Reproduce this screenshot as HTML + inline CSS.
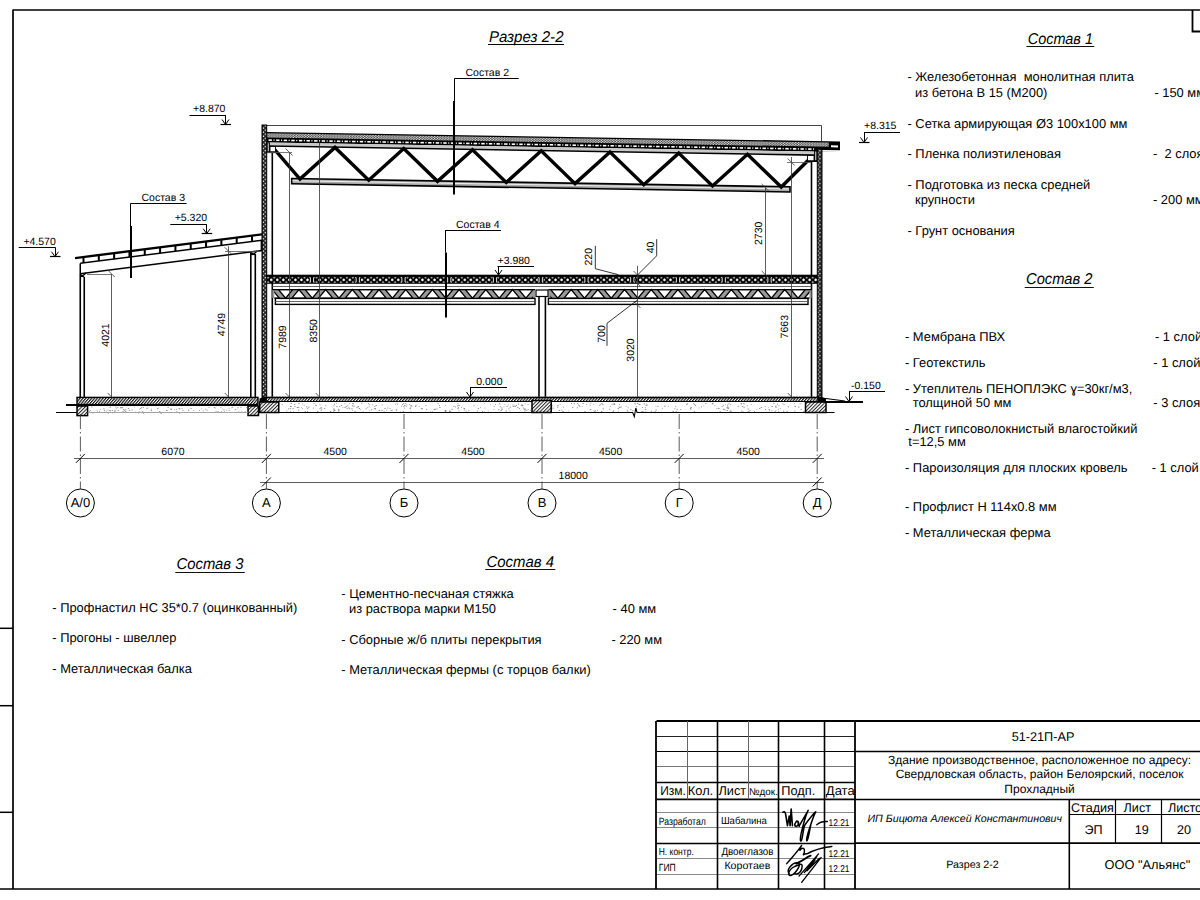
<!DOCTYPE html>
<html><head><meta charset="utf-8"><style>
html,body{margin:0;padding:0;background:#fff;overflow:hidden;}
svg{display:block;font-family:"Liberation Sans",sans-serif;text-rendering:geometricPrecision;}
</style></head><body>
<svg width="1200" height="900" viewBox="0 0 1200 900">
<defs>
<pattern id="ins" width="2.8" height="2.05" patternUnits="userSpaceOnUse" y="0.8"><rect width="2.8" height="2.05" fill="#3a3a3a"/><circle cx="0.7" cy="0.52" r="0.62" fill="#fff"/><circle cx="2.1" cy="1.55" r="0.62" fill="#fff"/></pattern>
<pattern id="dsh" width="7.6" height="2.4" patternUnits="userSpaceOnUse" y="6.3"><rect width="7.6" height="2.4" fill="#000"/><rect x="0.6" y="0.45" width="3.4" height="1.5" fill="#fff"/><rect x="5.3" y="0.5" width="1.1" height="1.4" fill="#eee"/></pattern>
<pattern id="wal" width="4.7" height="4.1" patternUnits="userSpaceOnUse" x="262"><rect width="4.7" height="4.1" fill="#222"/><circle cx="1.4" cy="1.0" r="0.7" fill="#fff"/><circle cx="3.3" cy="3.05" r="0.7" fill="#fff"/></pattern>
<pattern id="plk" width="6.05" height="6" patternUnits="userSpaceOnUse" x="2" y="276.9"><rect width="6.05" height="6" fill="#000"/><path d="M1.6 2.9 L3.0 1.3 L4.4 2.9 L3.0 4.5Z" fill="#fff"/><circle cx="3.0" cy="2.9" r="1.0" fill="#fff"/><path d="M4.7 0.3 L7.4 0.3 L6.05 2.0Z M4.7 5.7 L7.4 5.7 L6.05 4.0Z M-1.35 0.3 L1.35 0.3 L0 2.0Z M-1.35 5.7 L1.35 5.7 L0 4.0Z" fill="#ddd"/></pattern>
<pattern id="hat2" width="2.2" height="2.2" patternUnits="userSpaceOnUse" patternTransform="rotate(-50)"><rect width="2.2" height="2.2" fill="#fff"/><rect width="2.2" height="1.15" fill="#111"/></pattern>
<pattern id="hat" width="2.5" height="2.5" patternUnits="userSpaceOnUse" patternTransform="rotate(-45)"><rect width="2.5" height="2.5" fill="#fff"/><rect width="2.5" height="1.0" fill="#222"/></pattern>
</defs>
<line x1="13.00" y1="10.00" x2="1200.00" y2="10.00" stroke="#000" stroke-width="1.7" />
<line x1="13.00" y1="9.40" x2="13.00" y2="889.00" stroke="#000" stroke-width="1.7" />
<line x1="0.00" y1="889.00" x2="1200.00" y2="889.00" stroke="#000" stroke-width="1.7" />
<line x1="0.00" y1="628.30" x2="13.00" y2="628.30" stroke="#000" stroke-width="1.5" />
<line x1="0.00" y1="705.70" x2="13.00" y2="705.70" stroke="#000" stroke-width="1.5" />
<line x1="0.00" y1="812.30" x2="13.00" y2="812.30" stroke="#000" stroke-width="1.5" />
<path d="M1192.5 10 V31.5 H1200" stroke="#000" stroke-width="1.8" fill="none" />
<text x="489" y="41.5" font-size="15.6" text-anchor="start" font-style="italic" style="white-space:pre" textLength="74.5" lengthAdjust="spacingAndGlyphs">Разрез 2-2</text>
<line x1="488.00" y1="44.50" x2="564.00" y2="44.50" stroke="#000" stroke-width="1" />
<line x1="189.50" y1="115.50" x2="225.50" y2="115.50" stroke="#000" stroke-width="1" />
<line x1="225.50" y1="115.00" x2="225.50" y2="124.50" stroke="#000" stroke-width="1" />
<path d="M222.0 119.5 L225.5 124.5 L229.0 119.5" stroke="#000" stroke-width="1" fill="none" />
<line x1="220.50" y1="124.50" x2="231.00" y2="124.50" stroke="#000" stroke-width="1.2" />
<text x="193" y="112" font-size="10.5" text-anchor="start" font-style="normal" style="white-space:pre" >+8.870</text>
<line x1="18.70" y1="247.50" x2="55.00" y2="247.50" stroke="#000" stroke-width="1" />
<line x1="55.50" y1="247.20" x2="55.50" y2="256.70" stroke="#000" stroke-width="1" />
<path d="M51.5 251.7 L55 256.7 L58.5 251.7" stroke="#000" stroke-width="1" fill="none" />
<line x1="50.00" y1="256.50" x2="60.50" y2="256.50" stroke="#000" stroke-width="1.2" />
<text x="23.4" y="244.6" font-size="10.5" text-anchor="start" font-style="normal" style="white-space:pre" >+4.570</text>
<line x1="170.30" y1="224.50" x2="206.70" y2="224.50" stroke="#000" stroke-width="1" />
<line x1="206.50" y1="224.20" x2="206.50" y2="233.70" stroke="#000" stroke-width="1" />
<path d="M203.2 228.7 L206.7 233.7 L210.2 228.7" stroke="#000" stroke-width="1" fill="none" />
<line x1="201.70" y1="233.50" x2="212.20" y2="233.50" stroke="#000" stroke-width="1.2" />
<text x="174.7" y="221.2" font-size="10.5" text-anchor="start" font-style="normal" style="white-space:pre" >+5.320</text>
<line x1="864.00" y1="132.50" x2="900.00" y2="132.50" stroke="#000" stroke-width="1" />
<line x1="864.50" y1="132.00" x2="864.50" y2="142.50" stroke="#000" stroke-width="1" />
<path d="M860.5 137.5 L864 142.5 L867.5 137.5" stroke="#000" stroke-width="1" fill="none" />
<line x1="859.00" y1="142.50" x2="869.50" y2="142.50" stroke="#000" stroke-width="1.2" />
<text x="864" y="129" font-size="10.5" text-anchor="start" font-style="normal" style="white-space:pre" >+8.315</text>
<line x1="849.00" y1="391.50" x2="885.00" y2="391.50" stroke="#000" stroke-width="1" />
<line x1="849.50" y1="391.50" x2="849.50" y2="401.50" stroke="#000" stroke-width="1" />
<path d="M845.5 396.5 L849 401.5 L852.5 396.5" stroke="#000" stroke-width="1" fill="none" />
<text x="851" y="389" font-size="10.5" text-anchor="start" font-style="normal" style="white-space:pre" >-0.150</text>
<line x1="470.00" y1="387.50" x2="507.00" y2="387.50" stroke="#000" stroke-width="1" />
<line x1="470.50" y1="387.00" x2="470.50" y2="397.00" stroke="#000" stroke-width="1" />
<path d="M466.5 392 L470 397 L473.5 392" stroke="#000" stroke-width="1" fill="none" />
<text x="476.25" y="384.5" font-size="10.5" text-anchor="start" font-style="normal" style="white-space:pre" >0.000</text>
<line x1="497.50" y1="266.50" x2="534.00" y2="266.50" stroke="#000" stroke-width="1" />
<line x1="498.50" y1="266.40" x2="498.50" y2="275.00" stroke="#000" stroke-width="1" />
<path d="M495 270 L498.5 275 L502 270" stroke="#000" stroke-width="1" fill="none" />
<text x="497.5" y="263.75" font-size="10.5" text-anchor="start" font-style="normal" style="white-space:pre" >+3.980</text>
<path d="M266.7 125.5 H821.5 V141" stroke="#444" stroke-width="1" fill="none" />
<g transform="translate(0,128.068) skewY(0.9510)">
<rect x="266.70" y="-0.60" width="573.30" height="10.60" fill="#000" stroke="none" stroke-width="1" />
<rect x="266.70" y="0.80" width="562.00" height="4.10" fill="url(#ins)" stroke="none" stroke-width="1" />
<rect x="831.00" y="3.50" width="7.00" height="2.00" fill="#fff" stroke="none" stroke-width="1" />
<rect x="822.00" y="8.30" width="18.00" height="1.80" fill="#fff" stroke="none" stroke-width="1" />
<rect x="269.50" y="10.00" width="544.50" height="2.90" fill="#c8c8c8" stroke="none" stroke-width="1" />
<rect x="269.50" y="12.70" width="544.50" height="1.60" fill="#000" stroke="none" stroke-width="1" />
<rect x="291.70" y="45.60" width="498.30" height="5.20" fill="#aaa" stroke="#000" stroke-width="1.6" />
<line x1="292.50" y1="47.80" x2="789.00" y2="47.80" stroke="#fff" stroke-width="0.8" />
<path d="M273.00 15.00 L300.00 46.00 L335.00 13.80 L368.75 46.00 L403.75 13.80 L437.50 46.00 L472.50 13.80 L506.25 46.00 L541.25 13.80 L575.00 46.00 L610.00 13.80 L643.75 46.00 L678.75 13.80 L712.50 46.00 L747.50 13.80 L781.25 46.00 L811.00 16.00" stroke="#000" stroke-width="3.4" fill="none" stroke-linejoin="miter" stroke-miterlimit="3"/>
</g>
<rect x="268.50" y="139.33" width="3.40" height="1.60" fill="#fff" stroke="none" stroke-width="1" />
<rect x="273.40" y="139.43" width="1.10" height="1.40" fill="#fff" stroke="none" stroke-width="1" />
<rect x="276.10" y="139.45" width="3.40" height="1.60" fill="#fff" stroke="none" stroke-width="1" />
<rect x="281.00" y="139.55" width="1.10" height="1.40" fill="#fff" stroke="none" stroke-width="1" />
<rect x="283.70" y="139.58" width="3.40" height="1.60" fill="#fff" stroke="none" stroke-width="1" />
<rect x="288.60" y="139.68" width="1.10" height="1.40" fill="#fff" stroke="none" stroke-width="1" />
<rect x="291.30" y="139.70" width="3.40" height="1.60" fill="#fff" stroke="none" stroke-width="1" />
<rect x="296.20" y="139.80" width="1.10" height="1.40" fill="#fff" stroke="none" stroke-width="1" />
<rect x="298.90" y="139.83" width="3.40" height="1.60" fill="#fff" stroke="none" stroke-width="1" />
<rect x="303.80" y="139.93" width="1.10" height="1.40" fill="#fff" stroke="none" stroke-width="1" />
<rect x="306.50" y="139.96" width="3.40" height="1.60" fill="#fff" stroke="none" stroke-width="1" />
<rect x="311.40" y="140.06" width="1.10" height="1.40" fill="#fff" stroke="none" stroke-width="1" />
<rect x="314.10" y="140.08" width="3.40" height="1.60" fill="#fff" stroke="none" stroke-width="1" />
<rect x="319.00" y="140.18" width="1.10" height="1.40" fill="#fff" stroke="none" stroke-width="1" />
<rect x="321.70" y="140.21" width="3.40" height="1.60" fill="#fff" stroke="none" stroke-width="1" />
<rect x="326.60" y="140.31" width="1.10" height="1.40" fill="#fff" stroke="none" stroke-width="1" />
<rect x="329.30" y="140.33" width="3.40" height="1.60" fill="#fff" stroke="none" stroke-width="1" />
<rect x="334.20" y="140.43" width="1.10" height="1.40" fill="#fff" stroke="none" stroke-width="1" />
<rect x="336.90" y="140.46" width="3.40" height="1.60" fill="#fff" stroke="none" stroke-width="1" />
<rect x="341.80" y="140.56" width="1.10" height="1.40" fill="#fff" stroke="none" stroke-width="1" />
<rect x="344.50" y="140.59" width="3.40" height="1.60" fill="#fff" stroke="none" stroke-width="1" />
<rect x="349.40" y="140.69" width="1.10" height="1.40" fill="#fff" stroke="none" stroke-width="1" />
<rect x="352.10" y="140.71" width="3.40" height="1.60" fill="#fff" stroke="none" stroke-width="1" />
<rect x="357.00" y="140.81" width="1.10" height="1.40" fill="#fff" stroke="none" stroke-width="1" />
<rect x="359.70" y="140.84" width="3.40" height="1.60" fill="#fff" stroke="none" stroke-width="1" />
<rect x="364.60" y="140.94" width="1.10" height="1.40" fill="#fff" stroke="none" stroke-width="1" />
<rect x="367.30" y="140.97" width="3.40" height="1.60" fill="#fff" stroke="none" stroke-width="1" />
<rect x="372.20" y="141.07" width="1.10" height="1.40" fill="#fff" stroke="none" stroke-width="1" />
<rect x="374.90" y="141.09" width="3.40" height="1.60" fill="#fff" stroke="none" stroke-width="1" />
<rect x="379.80" y="141.19" width="1.10" height="1.40" fill="#fff" stroke="none" stroke-width="1" />
<rect x="382.50" y="141.22" width="3.40" height="1.60" fill="#fff" stroke="none" stroke-width="1" />
<rect x="387.40" y="141.32" width="1.10" height="1.40" fill="#fff" stroke="none" stroke-width="1" />
<rect x="390.10" y="141.34" width="3.40" height="1.60" fill="#fff" stroke="none" stroke-width="1" />
<rect x="395.00" y="141.44" width="1.10" height="1.40" fill="#fff" stroke="none" stroke-width="1" />
<rect x="397.70" y="141.47" width="3.40" height="1.60" fill="#fff" stroke="none" stroke-width="1" />
<rect x="402.60" y="141.57" width="1.10" height="1.40" fill="#fff" stroke="none" stroke-width="1" />
<rect x="405.30" y="141.60" width="3.40" height="1.60" fill="#fff" stroke="none" stroke-width="1" />
<rect x="410.20" y="141.70" width="1.10" height="1.40" fill="#fff" stroke="none" stroke-width="1" />
<rect x="412.90" y="141.72" width="3.40" height="1.60" fill="#fff" stroke="none" stroke-width="1" />
<rect x="417.80" y="141.82" width="1.10" height="1.40" fill="#fff" stroke="none" stroke-width="1" />
<rect x="420.50" y="141.85" width="3.40" height="1.60" fill="#fff" stroke="none" stroke-width="1" />
<rect x="425.40" y="141.95" width="1.10" height="1.40" fill="#fff" stroke="none" stroke-width="1" />
<rect x="428.10" y="141.97" width="3.40" height="1.60" fill="#fff" stroke="none" stroke-width="1" />
<rect x="433.00" y="142.07" width="1.10" height="1.40" fill="#fff" stroke="none" stroke-width="1" />
<rect x="435.70" y="142.10" width="3.40" height="1.60" fill="#fff" stroke="none" stroke-width="1" />
<rect x="440.60" y="142.20" width="1.10" height="1.40" fill="#fff" stroke="none" stroke-width="1" />
<rect x="443.30" y="142.23" width="3.40" height="1.60" fill="#fff" stroke="none" stroke-width="1" />
<rect x="448.20" y="142.33" width="1.10" height="1.40" fill="#fff" stroke="none" stroke-width="1" />
<rect x="450.90" y="142.35" width="3.40" height="1.60" fill="#fff" stroke="none" stroke-width="1" />
<rect x="455.80" y="142.45" width="1.10" height="1.40" fill="#fff" stroke="none" stroke-width="1" />
<rect x="458.50" y="142.48" width="3.40" height="1.60" fill="#fff" stroke="none" stroke-width="1" />
<rect x="463.40" y="142.58" width="1.10" height="1.40" fill="#fff" stroke="none" stroke-width="1" />
<rect x="466.10" y="142.61" width="3.40" height="1.60" fill="#fff" stroke="none" stroke-width="1" />
<rect x="471.00" y="142.71" width="1.10" height="1.40" fill="#fff" stroke="none" stroke-width="1" />
<rect x="473.70" y="142.73" width="3.40" height="1.60" fill="#fff" stroke="none" stroke-width="1" />
<rect x="478.60" y="142.83" width="1.10" height="1.40" fill="#fff" stroke="none" stroke-width="1" />
<rect x="481.30" y="142.86" width="3.40" height="1.60" fill="#fff" stroke="none" stroke-width="1" />
<rect x="486.20" y="142.96" width="1.10" height="1.40" fill="#fff" stroke="none" stroke-width="1" />
<rect x="488.90" y="142.98" width="3.40" height="1.60" fill="#fff" stroke="none" stroke-width="1" />
<rect x="493.80" y="143.08" width="1.10" height="1.40" fill="#fff" stroke="none" stroke-width="1" />
<rect x="496.50" y="143.11" width="3.40" height="1.60" fill="#fff" stroke="none" stroke-width="1" />
<rect x="501.40" y="143.21" width="1.10" height="1.40" fill="#fff" stroke="none" stroke-width="1" />
<rect x="504.10" y="143.24" width="3.40" height="1.60" fill="#fff" stroke="none" stroke-width="1" />
<rect x="509.00" y="143.34" width="1.10" height="1.40" fill="#fff" stroke="none" stroke-width="1" />
<rect x="511.70" y="143.36" width="3.40" height="1.60" fill="#fff" stroke="none" stroke-width="1" />
<rect x="516.60" y="143.46" width="1.10" height="1.40" fill="#fff" stroke="none" stroke-width="1" />
<rect x="519.30" y="143.49" width="3.40" height="1.60" fill="#fff" stroke="none" stroke-width="1" />
<rect x="524.20" y="143.59" width="1.10" height="1.40" fill="#fff" stroke="none" stroke-width="1" />
<rect x="526.90" y="143.61" width="3.40" height="1.60" fill="#fff" stroke="none" stroke-width="1" />
<rect x="531.80" y="143.71" width="1.10" height="1.40" fill="#fff" stroke="none" stroke-width="1" />
<rect x="534.50" y="143.74" width="3.40" height="1.60" fill="#fff" stroke="none" stroke-width="1" />
<rect x="539.40" y="143.84" width="1.10" height="1.40" fill="#fff" stroke="none" stroke-width="1" />
<rect x="542.10" y="143.87" width="3.40" height="1.60" fill="#fff" stroke="none" stroke-width="1" />
<rect x="547.00" y="143.97" width="1.10" height="1.40" fill="#fff" stroke="none" stroke-width="1" />
<rect x="549.70" y="143.99" width="3.40" height="1.60" fill="#fff" stroke="none" stroke-width="1" />
<rect x="554.60" y="144.09" width="1.10" height="1.40" fill="#fff" stroke="none" stroke-width="1" />
<rect x="557.30" y="144.12" width="3.40" height="1.60" fill="#fff" stroke="none" stroke-width="1" />
<rect x="562.20" y="144.22" width="1.10" height="1.40" fill="#fff" stroke="none" stroke-width="1" />
<rect x="564.90" y="144.25" width="3.40" height="1.60" fill="#fff" stroke="none" stroke-width="1" />
<rect x="569.80" y="144.35" width="1.10" height="1.40" fill="#fff" stroke="none" stroke-width="1" />
<rect x="572.50" y="144.37" width="3.40" height="1.60" fill="#fff" stroke="none" stroke-width="1" />
<rect x="577.40" y="144.47" width="1.10" height="1.40" fill="#fff" stroke="none" stroke-width="1" />
<rect x="580.10" y="144.50" width="3.40" height="1.60" fill="#fff" stroke="none" stroke-width="1" />
<rect x="585.00" y="144.60" width="1.10" height="1.40" fill="#fff" stroke="none" stroke-width="1" />
<rect x="587.70" y="144.62" width="3.40" height="1.60" fill="#fff" stroke="none" stroke-width="1" />
<rect x="592.60" y="144.72" width="1.10" height="1.40" fill="#fff" stroke="none" stroke-width="1" />
<rect x="595.30" y="144.75" width="3.40" height="1.60" fill="#fff" stroke="none" stroke-width="1" />
<rect x="600.20" y="144.85" width="1.10" height="1.40" fill="#fff" stroke="none" stroke-width="1" />
<rect x="602.90" y="144.88" width="3.40" height="1.60" fill="#fff" stroke="none" stroke-width="1" />
<rect x="607.80" y="144.98" width="1.10" height="1.40" fill="#fff" stroke="none" stroke-width="1" />
<rect x="610.50" y="145.00" width="3.40" height="1.60" fill="#fff" stroke="none" stroke-width="1" />
<rect x="615.40" y="145.10" width="1.10" height="1.40" fill="#fff" stroke="none" stroke-width="1" />
<rect x="618.10" y="145.13" width="3.40" height="1.60" fill="#fff" stroke="none" stroke-width="1" />
<rect x="623.00" y="145.23" width="1.10" height="1.40" fill="#fff" stroke="none" stroke-width="1" />
<rect x="625.70" y="145.25" width="3.40" height="1.60" fill="#fff" stroke="none" stroke-width="1" />
<rect x="630.60" y="145.35" width="1.10" height="1.40" fill="#fff" stroke="none" stroke-width="1" />
<rect x="633.30" y="145.38" width="3.40" height="1.60" fill="#fff" stroke="none" stroke-width="1" />
<rect x="638.20" y="145.48" width="1.10" height="1.40" fill="#fff" stroke="none" stroke-width="1" />
<rect x="640.90" y="145.51" width="3.40" height="1.60" fill="#fff" stroke="none" stroke-width="1" />
<rect x="645.80" y="145.61" width="1.10" height="1.40" fill="#fff" stroke="none" stroke-width="1" />
<rect x="648.50" y="145.63" width="3.40" height="1.60" fill="#fff" stroke="none" stroke-width="1" />
<rect x="653.40" y="145.73" width="1.10" height="1.40" fill="#fff" stroke="none" stroke-width="1" />
<rect x="656.10" y="145.76" width="3.40" height="1.60" fill="#fff" stroke="none" stroke-width="1" />
<rect x="661.00" y="145.86" width="1.10" height="1.40" fill="#fff" stroke="none" stroke-width="1" />
<rect x="663.70" y="145.89" width="3.40" height="1.60" fill="#fff" stroke="none" stroke-width="1" />
<rect x="668.60" y="145.99" width="1.10" height="1.40" fill="#fff" stroke="none" stroke-width="1" />
<rect x="671.30" y="146.01" width="3.40" height="1.60" fill="#fff" stroke="none" stroke-width="1" />
<rect x="676.20" y="146.11" width="1.10" height="1.40" fill="#fff" stroke="none" stroke-width="1" />
<rect x="678.90" y="146.14" width="3.40" height="1.60" fill="#fff" stroke="none" stroke-width="1" />
<rect x="683.80" y="146.24" width="1.10" height="1.40" fill="#fff" stroke="none" stroke-width="1" />
<rect x="686.50" y="146.26" width="3.40" height="1.60" fill="#fff" stroke="none" stroke-width="1" />
<rect x="691.40" y="146.36" width="1.10" height="1.40" fill="#fff" stroke="none" stroke-width="1" />
<rect x="694.10" y="146.39" width="3.40" height="1.60" fill="#fff" stroke="none" stroke-width="1" />
<rect x="699.00" y="146.49" width="1.10" height="1.40" fill="#fff" stroke="none" stroke-width="1" />
<rect x="701.70" y="146.52" width="3.40" height="1.60" fill="#fff" stroke="none" stroke-width="1" />
<rect x="706.60" y="146.62" width="1.10" height="1.40" fill="#fff" stroke="none" stroke-width="1" />
<rect x="709.30" y="146.64" width="3.40" height="1.60" fill="#fff" stroke="none" stroke-width="1" />
<rect x="714.20" y="146.74" width="1.10" height="1.40" fill="#fff" stroke="none" stroke-width="1" />
<rect x="716.90" y="146.77" width="3.40" height="1.60" fill="#fff" stroke="none" stroke-width="1" />
<rect x="721.80" y="146.87" width="1.10" height="1.40" fill="#fff" stroke="none" stroke-width="1" />
<rect x="724.50" y="146.89" width="3.40" height="1.60" fill="#fff" stroke="none" stroke-width="1" />
<rect x="729.40" y="146.99" width="1.10" height="1.40" fill="#fff" stroke="none" stroke-width="1" />
<rect x="732.10" y="147.02" width="3.40" height="1.60" fill="#fff" stroke="none" stroke-width="1" />
<rect x="737.00" y="147.12" width="1.10" height="1.40" fill="#fff" stroke="none" stroke-width="1" />
<rect x="739.70" y="147.15" width="3.40" height="1.60" fill="#fff" stroke="none" stroke-width="1" />
<rect x="744.60" y="147.25" width="1.10" height="1.40" fill="#fff" stroke="none" stroke-width="1" />
<rect x="747.30" y="147.27" width="3.40" height="1.60" fill="#fff" stroke="none" stroke-width="1" />
<rect x="752.20" y="147.37" width="1.10" height="1.40" fill="#fff" stroke="none" stroke-width="1" />
<rect x="754.90" y="147.40" width="3.40" height="1.60" fill="#fff" stroke="none" stroke-width="1" />
<rect x="759.80" y="147.50" width="1.10" height="1.40" fill="#fff" stroke="none" stroke-width="1" />
<rect x="762.50" y="147.53" width="3.40" height="1.60" fill="#fff" stroke="none" stroke-width="1" />
<rect x="767.40" y="147.63" width="1.10" height="1.40" fill="#fff" stroke="none" stroke-width="1" />
<rect x="770.10" y="147.65" width="3.40" height="1.60" fill="#fff" stroke="none" stroke-width="1" />
<rect x="775.00" y="147.75" width="1.10" height="1.40" fill="#fff" stroke="none" stroke-width="1" />
<rect x="777.70" y="147.78" width="3.40" height="1.60" fill="#fff" stroke="none" stroke-width="1" />
<rect x="782.60" y="147.88" width="1.10" height="1.40" fill="#fff" stroke="none" stroke-width="1" />
<rect x="785.30" y="147.90" width="3.40" height="1.60" fill="#fff" stroke="none" stroke-width="1" />
<rect x="790.20" y="148.00" width="1.10" height="1.40" fill="#fff" stroke="none" stroke-width="1" />
<rect x="792.90" y="148.03" width="3.40" height="1.60" fill="#fff" stroke="none" stroke-width="1" />
<rect x="797.80" y="148.13" width="1.10" height="1.40" fill="#fff" stroke="none" stroke-width="1" />
<rect x="800.50" y="148.16" width="3.40" height="1.60" fill="#fff" stroke="none" stroke-width="1" />
<rect x="805.40" y="148.26" width="1.10" height="1.40" fill="#fff" stroke="none" stroke-width="1" />
<rect x="808.10" y="148.28" width="3.40" height="1.60" fill="#fff" stroke="none" stroke-width="1" />
<rect x="813.00" y="148.38" width="1.10" height="1.40" fill="#fff" stroke="none" stroke-width="1" />
<rect x="262.00" y="125.00" width="4.70" height="277.00" fill="url(#wal)" stroke="#000" stroke-width="1" />
<rect x="817.30" y="149.00" width="4.70" height="252.00" fill="url(#wal)" stroke="#000" stroke-width="1" />
<line x1="272.30" y1="152.00" x2="272.30" y2="397.00" stroke="#000" stroke-width="1.6" />
<line x1="811.50" y1="160.00" x2="811.50" y2="397.00" stroke="#000" stroke-width="1.6" />
<rect x="267.20" y="142.80" width="2.30" height="9.20" fill="#aaa" stroke="#000" stroke-width="0.9" />
<rect x="270.00" y="146.50" width="5.50" height="5.50" fill="#fff" stroke="#000" stroke-width="0.9" />
<line x1="266.70" y1="152.30" x2="276.00" y2="152.30" stroke="#000" stroke-width="1.6" />
<rect x="814.50" y="151.00" width="2.30" height="9.80" fill="#aaa" stroke="#000" stroke-width="0.9" />
<rect x="807.50" y="155.50" width="6.50" height="5.50" fill="#fff" stroke="#000" stroke-width="0.9" />
<line x1="807.00" y1="161.20" x2="817.00" y2="161.20" stroke="#000" stroke-width="1.6" />
<rect x="266.70" y="274.70" width="550.60" height="9.10" fill="#000" stroke="none" stroke-width="1" />
<rect x="266.70" y="276.90" width="550.60" height="6.00" fill="url(#plk)" stroke="none" stroke-width="1" />
<rect x="309.00" y="276.90" width="6.00" height="6.00" fill="#000" stroke="none" stroke-width="1" />
<path d="M309.4 277.6 H310.4 V282.2 H309.4" stroke="#fff" stroke-width="0.9" fill="none" />
<path d="M314.6 277.6 H313.6 V282.2 H314.6" stroke="#fff" stroke-width="0.9" fill="none" />
<rect x="354.75" y="276.90" width="6.00" height="6.00" fill="#000" stroke="none" stroke-width="1" />
<path d="M355.15 277.6 H356.15 V282.2 H355.15" stroke="#fff" stroke-width="0.9" fill="none" />
<path d="M360.35 277.6 H359.35 V282.2 H360.35" stroke="#fff" stroke-width="0.9" fill="none" />
<rect x="400.50" y="276.90" width="6.00" height="6.00" fill="#000" stroke="none" stroke-width="1" />
<path d="M400.9 277.6 H401.9 V282.2 H400.9" stroke="#fff" stroke-width="0.9" fill="none" />
<path d="M406.1 277.6 H405.1 V282.2 H406.1" stroke="#fff" stroke-width="0.9" fill="none" />
<rect x="446.25" y="276.90" width="6.00" height="6.00" fill="#000" stroke="none" stroke-width="1" />
<path d="M446.65 277.6 H447.65 V282.2 H446.65" stroke="#fff" stroke-width="0.9" fill="none" />
<path d="M451.85 277.6 H450.85 V282.2 H451.85" stroke="#fff" stroke-width="0.9" fill="none" />
<rect x="492.00" y="276.90" width="6.00" height="6.00" fill="#000" stroke="none" stroke-width="1" />
<path d="M492.4 277.6 H493.4 V282.2 H492.4" stroke="#fff" stroke-width="0.9" fill="none" />
<path d="M497.6 277.6 H496.6 V282.2 H497.6" stroke="#fff" stroke-width="0.9" fill="none" />
<rect x="537.75" y="276.90" width="6.00" height="6.00" fill="#000" stroke="none" stroke-width="1" />
<path d="M538.15 277.6 H539.15 V282.2 H538.15" stroke="#fff" stroke-width="0.9" fill="none" />
<path d="M543.35 277.6 H542.35 V282.2 H543.35" stroke="#fff" stroke-width="0.9" fill="none" />
<rect x="583.50" y="276.90" width="6.00" height="6.00" fill="#000" stroke="none" stroke-width="1" />
<path d="M583.9 277.6 H584.9 V282.2 H583.9" stroke="#fff" stroke-width="0.9" fill="none" />
<path d="M589.1 277.6 H588.1 V282.2 H589.1" stroke="#fff" stroke-width="0.9" fill="none" />
<rect x="629.25" y="276.90" width="6.00" height="6.00" fill="#000" stroke="none" stroke-width="1" />
<path d="M629.65 277.6 H630.65 V282.2 H629.65" stroke="#fff" stroke-width="0.9" fill="none" />
<path d="M634.85 277.6 H633.85 V282.2 H634.85" stroke="#fff" stroke-width="0.9" fill="none" />
<rect x="675.00" y="276.90" width="6.00" height="6.00" fill="#000" stroke="none" stroke-width="1" />
<path d="M675.4 277.6 H676.4 V282.2 H675.4" stroke="#fff" stroke-width="0.9" fill="none" />
<path d="M680.6 277.6 H679.6 V282.2 H680.6" stroke="#fff" stroke-width="0.9" fill="none" />
<rect x="720.75" y="276.90" width="6.00" height="6.00" fill="#000" stroke="none" stroke-width="1" />
<path d="M721.15 277.6 H722.15 V282.2 H721.15" stroke="#fff" stroke-width="0.9" fill="none" />
<path d="M726.35 277.6 H725.35 V282.2 H726.35" stroke="#fff" stroke-width="0.9" fill="none" />
<rect x="766.50" y="276.90" width="6.00" height="6.00" fill="#000" stroke="none" stroke-width="1" />
<path d="M766.9 277.6 H767.9 V282.2 H766.9" stroke="#fff" stroke-width="0.9" fill="none" />
<path d="M772.1 277.6 H771.1 V282.2 H772.1" stroke="#fff" stroke-width="0.9" fill="none" />
<line x1="272.30" y1="286.50" x2="811.50" y2="286.50" stroke="#555" stroke-width="0.9" />
<rect x="272.30" y="289.60" width="262.70" height="8.60" fill="#999" stroke="none" stroke-width="1" />
<clipPath id="cp272"><rect x="274.3" y="285" width="258.7" height="20"/></clipPath>
<path d="M265.15 298.2 L279.35 298.2 L272.25 289.6Z M278.50 289.6 L292.70 289.6 L285.60 298.2Z M291.85 298.2 L306.05 298.2 L298.95 289.6Z M305.20 289.6 L319.40 289.6 L312.30 298.2Z M318.55 298.2 L332.75 298.2 L325.65 289.6Z M331.90 289.6 L346.10 289.6 L339.00 298.2Z M345.25 298.2 L359.45 298.2 L352.35 289.6Z M358.60 289.6 L372.80 289.6 L365.70 298.2Z M371.95 298.2 L386.15 298.2 L379.05 289.6Z M385.30 289.6 L399.50 289.6 L392.40 298.2Z M398.65 298.2 L412.85 298.2 L405.75 289.6Z M412.00 289.6 L426.20 289.6 L419.10 298.2Z M425.35 298.2 L439.55 298.2 L432.45 289.6Z M438.70 289.6 L452.90 289.6 L445.80 298.2Z M452.05 298.2 L466.25 298.2 L459.15 289.6Z M465.40 289.6 L479.60 289.6 L472.50 298.2Z M478.75 298.2 L492.95 298.2 L485.85 289.6Z M492.10 289.6 L506.30 289.6 L499.20 298.2Z M505.45 298.2 L519.65 298.2 L512.55 289.6Z M518.80 289.6 L533.00 289.6 L525.90 298.2Z M532.15 298.2 L546.35 298.2 L539.25 289.6Z " stroke="#000" stroke-width="1.3" fill="#fff" clip-path="url(#cp272)"/>
<line x1="272.30" y1="289.60" x2="535.00" y2="289.60" stroke="#000" stroke-width="1.4" />
<rect x="275.40" y="298.40" width="259.60" height="6.00" fill="#fff" stroke="#000" stroke-width="1.4" />
<line x1="275.40" y1="301.50" x2="535.00" y2="301.50" stroke="#555" stroke-width="0.9" />
<rect x="548.40" y="289.60" width="263.10" height="8.60" fill="#999" stroke="none" stroke-width="1" />
<clipPath id="cp548"><rect x="550.4" y="285" width="259.1" height="20"/></clipPath>
<path d="M537.35 298.2 L551.55 298.2 L544.45 289.6Z M550.70 289.6 L564.90 289.6 L557.80 298.2Z M564.05 298.2 L578.25 298.2 L571.15 289.6Z M577.40 289.6 L591.60 289.6 L584.50 298.2Z M590.75 298.2 L604.95 298.2 L597.85 289.6Z M604.10 289.6 L618.30 289.6 L611.20 298.2Z M617.45 298.2 L631.65 298.2 L624.55 289.6Z M630.80 289.6 L645.00 289.6 L637.90 298.2Z M644.15 298.2 L658.35 298.2 L651.25 289.6Z M657.50 289.6 L671.70 289.6 L664.60 298.2Z M670.85 298.2 L685.05 298.2 L677.95 289.6Z M684.20 289.6 L698.40 289.6 L691.30 298.2Z M697.55 298.2 L711.75 298.2 L704.65 289.6Z M710.90 289.6 L725.10 289.6 L718.00 298.2Z M724.25 298.2 L738.45 298.2 L731.35 289.6Z M737.60 289.6 L751.80 289.6 L744.70 298.2Z M750.95 298.2 L765.15 298.2 L758.05 289.6Z M764.30 289.6 L778.50 289.6 L771.40 298.2Z M777.65 298.2 L791.85 298.2 L784.75 289.6Z M791.00 289.6 L805.20 289.6 L798.10 298.2Z M804.35 298.2 L818.55 298.2 L811.45 289.6Z " stroke="#000" stroke-width="1.3" fill="#fff" clip-path="url(#cp548)"/>
<line x1="548.40" y1="289.60" x2="811.50" y2="289.60" stroke="#000" stroke-width="1.4" />
<rect x="548.40" y="298.40" width="259.60" height="6.00" fill="#fff" stroke="#000" stroke-width="1.4" />
<line x1="548.40" y1="301.50" x2="808.00" y2="301.50" stroke="#555" stroke-width="0.9" />
<line x1="539.00" y1="296.30" x2="539.00" y2="397.00" stroke="#000" stroke-width="1.6" />
<line x1="545.40" y1="296.30" x2="545.40" y2="397.00" stroke="#000" stroke-width="1.6" />
<rect x="536.00" y="290.00" width="12.00" height="6.50" fill="#fff" stroke="#000" stroke-width="1.2" />
<rect x="266.70" y="396.70" width="550.80" height="5.60" fill="url(#hat2)" stroke="none" stroke-width="1" />
<line x1="266.70" y1="397.50" x2="817.50" y2="397.50" stroke="#000" stroke-width="1.6" />
<line x1="266.70" y1="401.70" x2="817.50" y2="401.70" stroke="#000" stroke-width="1.5" />
<rect x="278.75" y="402.00" width="527.00" height="10.50" fill="#fff" stroke="none" stroke-width="1" />
<rect x="404.17" y="407.70" width="1.00" height="0.70" fill="#666" stroke="none" stroke-width="1" />
<rect x="760.79" y="407.07" width="1.30" height="0.70" fill="#666" stroke="none" stroke-width="1" />
<rect x="313.47" y="402.92" width="1.00" height="0.70" fill="#666" stroke="none" stroke-width="1" />
<rect x="415.42" y="404.91" width="1.30" height="0.70" fill="#666" stroke="none" stroke-width="1" />
<rect x="526.36" y="410.33" width="1.00" height="0.70" fill="#666" stroke="none" stroke-width="1" />
<rect x="487.89" y="410.55" width="0.70" height="0.70" fill="#666" stroke="none" stroke-width="1" />
<rect x="612.94" y="410.61" width="1.30" height="0.70" fill="#666" stroke="none" stroke-width="1" />
<rect x="484.11" y="402.94" width="0.70" height="0.70" fill="#666" stroke="none" stroke-width="1" />
<rect x="362.84" y="411.42" width="0.70" height="0.70" fill="#666" stroke="none" stroke-width="1" />
<rect x="437.47" y="403.08" width="1.00" height="0.70" fill="#666" stroke="none" stroke-width="1" />
<rect x="527.67" y="409.27" width="1.00" height="0.70" fill="#666" stroke="none" stroke-width="1" />
<rect x="654.63" y="411.09" width="1.00" height="0.70" fill="#666" stroke="none" stroke-width="1" />
<rect x="661.99" y="407.99" width="0.70" height="0.70" fill="#666" stroke="none" stroke-width="1" />
<rect x="741.28" y="403.68" width="0.70" height="0.70" fill="#666" stroke="none" stroke-width="1" />
<rect x="539.31" y="405.12" width="1.30" height="0.70" fill="#666" stroke="none" stroke-width="1" />
<rect x="508.42" y="408.44" width="1.00" height="0.70" fill="#666" stroke="none" stroke-width="1" />
<rect x="500.52" y="410.30" width="1.30" height="0.70" fill="#666" stroke="none" stroke-width="1" />
<rect x="463.58" y="408.07" width="1.30" height="0.70" fill="#666" stroke="none" stroke-width="1" />
<rect x="401.24" y="405.83" width="0.70" height="0.70" fill="#666" stroke="none" stroke-width="1" />
<rect x="729.47" y="411.72" width="1.30" height="0.70" fill="#666" stroke="none" stroke-width="1" />
<rect x="644.87" y="409.09" width="1.00" height="0.70" fill="#666" stroke="none" stroke-width="1" />
<rect x="786.40" y="410.94" width="1.30" height="0.70" fill="#666" stroke="none" stroke-width="1" />
<rect x="333.74" y="408.70" width="1.30" height="0.70" fill="#666" stroke="none" stroke-width="1" />
<rect x="716.43" y="407.96" width="1.00" height="0.70" fill="#666" stroke="none" stroke-width="1" />
<rect x="344.45" y="407.14" width="1.30" height="0.70" fill="#666" stroke="none" stroke-width="1" />
<rect x="799.64" y="403.60" width="0.70" height="0.70" fill="#666" stroke="none" stroke-width="1" />
<rect x="494.90" y="404.16" width="1.00" height="0.70" fill="#666" stroke="none" stroke-width="1" />
<rect x="503.68" y="406.54" width="0.70" height="0.70" fill="#666" stroke="none" stroke-width="1" />
<rect x="302.24" y="408.33" width="0.70" height="0.70" fill="#666" stroke="none" stroke-width="1" />
<rect x="477.73" y="408.08" width="1.30" height="0.70" fill="#666" stroke="none" stroke-width="1" />
<rect x="742.36" y="411.63" width="1.30" height="0.70" fill="#666" stroke="none" stroke-width="1" />
<rect x="403.11" y="403.12" width="0.70" height="0.70" fill="#666" stroke="none" stroke-width="1" />
<rect x="319.49" y="408.20" width="0.70" height="0.70" fill="#666" stroke="none" stroke-width="1" />
<rect x="778.12" y="411.54" width="1.00" height="0.70" fill="#666" stroke="none" stroke-width="1" />
<rect x="600.11" y="404.21" width="0.70" height="0.70" fill="#666" stroke="none" stroke-width="1" />
<rect x="794.42" y="405.86" width="1.00" height="0.70" fill="#666" stroke="none" stroke-width="1" />
<rect x="783.25" y="410.87" width="1.00" height="0.70" fill="#666" stroke="none" stroke-width="1" />
<rect x="477.17" y="410.63" width="1.00" height="0.70" fill="#666" stroke="none" stroke-width="1" />
<rect x="617.69" y="408.16" width="1.30" height="0.70" fill="#666" stroke="none" stroke-width="1" />
<rect x="332.95" y="411.56" width="1.30" height="0.70" fill="#666" stroke="none" stroke-width="1" />
<rect x="421.70" y="408.51" width="1.30" height="0.70" fill="#666" stroke="none" stroke-width="1" />
<rect x="404.00" y="405.51" width="1.00" height="0.70" fill="#666" stroke="none" stroke-width="1" />
<rect x="553.11" y="407.74" width="0.70" height="0.70" fill="#666" stroke="none" stroke-width="1" />
<rect x="693.70" y="411.69" width="1.00" height="0.70" fill="#666" stroke="none" stroke-width="1" />
<rect x="289.55" y="408.34" width="1.30" height="0.70" fill="#666" stroke="none" stroke-width="1" />
<rect x="349.10" y="408.50" width="1.00" height="0.70" fill="#666" stroke="none" stroke-width="1" />
<rect x="524.25" y="408.91" width="1.00" height="0.70" fill="#666" stroke="none" stroke-width="1" />
<rect x="599.26" y="405.31" width="1.00" height="0.70" fill="#666" stroke="none" stroke-width="1" />
<rect x="290.67" y="403.35" width="1.30" height="0.70" fill="#666" stroke="none" stroke-width="1" />
<rect x="290.18" y="406.12" width="1.30" height="0.70" fill="#666" stroke="none" stroke-width="1" />
<rect x="519.02" y="408.13" width="1.00" height="0.70" fill="#666" stroke="none" stroke-width="1" />
<rect x="372.32" y="404.47" width="1.00" height="0.70" fill="#666" stroke="none" stroke-width="1" />
<rect x="722.86" y="405.18" width="1.00" height="0.70" fill="#666" stroke="none" stroke-width="1" />
<rect x="334.16" y="410.12" width="1.30" height="0.70" fill="#666" stroke="none" stroke-width="1" />
<rect x="638.64" y="403.98" width="1.30" height="0.70" fill="#666" stroke="none" stroke-width="1" />
<rect x="396.05" y="410.03" width="0.70" height="0.70" fill="#666" stroke="none" stroke-width="1" />
<rect x="451.42" y="408.90" width="1.30" height="0.70" fill="#666" stroke="none" stroke-width="1" />
<rect x="646.18" y="403.72" width="1.00" height="0.70" fill="#666" stroke="none" stroke-width="1" />
<rect x="778.25" y="408.87" width="0.70" height="0.70" fill="#666" stroke="none" stroke-width="1" />
<rect x="509.61" y="410.50" width="0.70" height="0.70" fill="#666" stroke="none" stroke-width="1" />
<rect x="321.05" y="409.48" width="0.70" height="0.70" fill="#666" stroke="none" stroke-width="1" />
<rect x="744.46" y="406.86" width="0.70" height="0.70" fill="#666" stroke="none" stroke-width="1" />
<rect x="692.97" y="403.11" width="0.70" height="0.70" fill="#666" stroke="none" stroke-width="1" />
<rect x="444.76" y="410.33" width="1.30" height="0.70" fill="#666" stroke="none" stroke-width="1" />
<rect x="375.57" y="405.31" width="1.30" height="0.70" fill="#666" stroke="none" stroke-width="1" />
<rect x="323.99" y="408.37" width="1.30" height="0.70" fill="#666" stroke="none" stroke-width="1" />
<rect x="347.22" y="405.43" width="1.00" height="0.70" fill="#666" stroke="none" stroke-width="1" />
<rect x="523.44" y="408.51" width="1.00" height="0.70" fill="#666" stroke="none" stroke-width="1" />
<rect x="499.80" y="406.49" width="1.00" height="0.70" fill="#666" stroke="none" stroke-width="1" />
<rect x="361.05" y="402.84" width="1.30" height="0.70" fill="#666" stroke="none" stroke-width="1" />
<rect x="798.12" y="406.71" width="1.30" height="0.70" fill="#666" stroke="none" stroke-width="1" />
<rect x="395.82" y="409.51" width="1.30" height="0.70" fill="#666" stroke="none" stroke-width="1" />
<rect x="672.46" y="411.47" width="1.30" height="0.70" fill="#666" stroke="none" stroke-width="1" />
<rect x="458.40" y="404.85" width="0.70" height="0.70" fill="#666" stroke="none" stroke-width="1" />
<rect x="730.30" y="411.54" width="0.70" height="0.70" fill="#666" stroke="none" stroke-width="1" />
<rect x="705.16" y="403.21" width="1.30" height="0.70" fill="#666" stroke="none" stroke-width="1" />
<rect x="548.47" y="404.59" width="1.00" height="0.70" fill="#666" stroke="none" stroke-width="1" />
<rect x="582.48" y="402.92" width="1.30" height="0.70" fill="#666" stroke="none" stroke-width="1" />
<rect x="342.55" y="407.33" width="0.70" height="0.70" fill="#666" stroke="none" stroke-width="1" />
<rect x="627.68" y="407.52" width="1.00" height="0.70" fill="#666" stroke="none" stroke-width="1" />
<rect x="307.01" y="411.02" width="0.70" height="0.70" fill="#666" stroke="none" stroke-width="1" />
<rect x="458.55" y="405.07" width="1.30" height="0.70" fill="#666" stroke="none" stroke-width="1" />
<rect x="530.01" y="409.84" width="1.00" height="0.70" fill="#666" stroke="none" stroke-width="1" />
<rect x="395.14" y="403.90" width="0.70" height="0.70" fill="#666" stroke="none" stroke-width="1" />
<rect x="369.10" y="409.93" width="0.70" height="0.70" fill="#666" stroke="none" stroke-width="1" />
<rect x="712.16" y="402.87" width="1.30" height="0.70" fill="#666" stroke="none" stroke-width="1" />
<rect x="579.29" y="406.40" width="1.00" height="0.70" fill="#666" stroke="none" stroke-width="1" />
<rect x="409.58" y="408.36" width="1.30" height="0.70" fill="#666" stroke="none" stroke-width="1" />
<rect x="501.49" y="407.06" width="0.70" height="0.70" fill="#666" stroke="none" stroke-width="1" />
<rect x="729.79" y="409.78" width="0.70" height="0.70" fill="#666" stroke="none" stroke-width="1" />
<rect x="344.55" y="403.42" width="0.70" height="0.70" fill="#666" stroke="none" stroke-width="1" />
<rect x="728.44" y="403.58" width="1.30" height="0.70" fill="#666" stroke="none" stroke-width="1" />
<rect x="536.74" y="404.21" width="0.70" height="0.70" fill="#666" stroke="none" stroke-width="1" />
<rect x="463.78" y="408.62" width="1.30" height="0.70" fill="#666" stroke="none" stroke-width="1" />
<rect x="438.97" y="405.18" width="1.00" height="0.70" fill="#666" stroke="none" stroke-width="1" />
<rect x="504.50" y="403.95" width="0.70" height="0.70" fill="#666" stroke="none" stroke-width="1" />
<rect x="655.64" y="406.22" width="0.70" height="0.70" fill="#666" stroke="none" stroke-width="1" />
<rect x="577.10" y="403.19" width="1.00" height="0.70" fill="#666" stroke="none" stroke-width="1" />
<rect x="596.93" y="409.84" width="1.00" height="0.70" fill="#666" stroke="none" stroke-width="1" />
<rect x="613.89" y="403.19" width="1.00" height="0.70" fill="#666" stroke="none" stroke-width="1" />
<rect x="306.91" y="408.45" width="1.30" height="0.70" fill="#666" stroke="none" stroke-width="1" />
<rect x="444.66" y="411.35" width="1.00" height="0.70" fill="#666" stroke="none" stroke-width="1" />
<rect x="521.40" y="405.01" width="1.30" height="0.70" fill="#666" stroke="none" stroke-width="1" />
<rect x="421.07" y="408.11" width="1.00" height="0.70" fill="#666" stroke="none" stroke-width="1" />
<rect x="397.06" y="403.97" width="0.70" height="0.70" fill="#666" stroke="none" stroke-width="1" />
<rect x="771.59" y="406.17" width="1.30" height="0.70" fill="#666" stroke="none" stroke-width="1" />
<rect x="695.02" y="405.16" width="1.00" height="0.70" fill="#666" stroke="none" stroke-width="1" />
<rect x="642.23" y="411.25" width="1.30" height="0.70" fill="#666" stroke="none" stroke-width="1" />
<rect x="627.36" y="410.79" width="1.00" height="0.70" fill="#666" stroke="none" stroke-width="1" />
<rect x="630.14" y="409.40" width="1.30" height="0.70" fill="#666" stroke="none" stroke-width="1" />
<rect x="558.82" y="410.10" width="1.30" height="0.70" fill="#666" stroke="none" stroke-width="1" />
<rect x="281.58" y="404.09" width="1.00" height="0.70" fill="#666" stroke="none" stroke-width="1" />
<rect x="302.31" y="403.63" width="0.70" height="0.70" fill="#666" stroke="none" stroke-width="1" />
<rect x="625.74" y="406.18" width="0.70" height="0.70" fill="#666" stroke="none" stroke-width="1" />
<rect x="458.62" y="410.47" width="0.70" height="0.70" fill="#666" stroke="none" stroke-width="1" />
<rect x="722.91" y="408.86" width="1.30" height="0.70" fill="#666" stroke="none" stroke-width="1" />
<rect x="779.97" y="408.01" width="0.70" height="0.70" fill="#666" stroke="none" stroke-width="1" />
<rect x="298.08" y="409.71" width="1.30" height="0.70" fill="#666" stroke="none" stroke-width="1" />
<rect x="557.26" y="404.94" width="1.30" height="0.70" fill="#666" stroke="none" stroke-width="1" />
<rect x="672.96" y="411.21" width="0.70" height="0.70" fill="#666" stroke="none" stroke-width="1" />
<rect x="568.36" y="410.62" width="0.70" height="0.70" fill="#666" stroke="none" stroke-width="1" />
<rect x="714.56" y="404.98" width="0.70" height="0.70" fill="#666" stroke="none" stroke-width="1" />
<rect x="618.78" y="406.89" width="1.30" height="0.70" fill="#666" stroke="none" stroke-width="1" />
<rect x="675.36" y="406.34" width="1.00" height="0.70" fill="#666" stroke="none" stroke-width="1" />
<rect x="594.31" y="411.25" width="1.30" height="0.70" fill="#666" stroke="none" stroke-width="1" />
<rect x="498.98" y="403.55" width="1.30" height="0.70" fill="#666" stroke="none" stroke-width="1" />
<rect x="402.75" y="411.17" width="1.30" height="0.70" fill="#666" stroke="none" stroke-width="1" />
<rect x="787.69" y="406.54" width="1.30" height="0.70" fill="#666" stroke="none" stroke-width="1" />
<rect x="676.72" y="408.86" width="1.30" height="0.70" fill="#666" stroke="none" stroke-width="1" />
<rect x="639.60" y="404.21" width="1.00" height="0.70" fill="#666" stroke="none" stroke-width="1" />
<rect x="751.03" y="404.14" width="0.70" height="0.70" fill="#666" stroke="none" stroke-width="1" />
<rect x="540.93" y="407.15" width="1.30" height="0.70" fill="#666" stroke="none" stroke-width="1" />
<rect x="551.08" y="406.79" width="1.30" height="0.70" fill="#666" stroke="none" stroke-width="1" />
<rect x="730.36" y="404.03" width="0.70" height="0.70" fill="#666" stroke="none" stroke-width="1" />
<rect x="356.09" y="407.44" width="0.70" height="0.70" fill="#666" stroke="none" stroke-width="1" />
<rect x="726.88" y="407.64" width="1.00" height="0.70" fill="#666" stroke="none" stroke-width="1" />
<rect x="632.15" y="410.50" width="1.30" height="0.70" fill="#666" stroke="none" stroke-width="1" />
<rect x="728.01" y="408.06" width="1.00" height="0.70" fill="#666" stroke="none" stroke-width="1" />
<rect x="746.83" y="405.57" width="1.00" height="0.70" fill="#666" stroke="none" stroke-width="1" />
<rect x="531.21" y="406.24" width="0.70" height="0.70" fill="#666" stroke="none" stroke-width="1" />
<rect x="578.76" y="404.95" width="1.00" height="0.70" fill="#666" stroke="none" stroke-width="1" />
<rect x="686.23" y="404.09" width="1.30" height="0.70" fill="#666" stroke="none" stroke-width="1" />
<rect x="531.26" y="408.19" width="1.00" height="0.70" fill="#666" stroke="none" stroke-width="1" />
<rect x="584.35" y="410.92" width="1.30" height="0.70" fill="#666" stroke="none" stroke-width="1" />
<rect x="572.05" y="407.13" width="1.30" height="0.70" fill="#666" stroke="none" stroke-width="1" />
<rect x="317.07" y="411.33" width="1.30" height="0.70" fill="#666" stroke="none" stroke-width="1" />
<rect x="742.85" y="403.21" width="0.70" height="0.70" fill="#666" stroke="none" stroke-width="1" />
<rect x="747.66" y="408.63" width="1.30" height="0.70" fill="#666" stroke="none" stroke-width="1" />
<rect x="315.43" y="404.76" width="1.00" height="0.70" fill="#666" stroke="none" stroke-width="1" />
<rect x="406.34" y="404.51" width="1.00" height="0.70" fill="#666" stroke="none" stroke-width="1" />
<rect x="351.31" y="408.40" width="1.30" height="0.70" fill="#666" stroke="none" stroke-width="1" />
<rect x="730.62" y="410.90" width="1.00" height="0.70" fill="#666" stroke="none" stroke-width="1" />
<rect x="368.27" y="403.21" width="0.70" height="0.70" fill="#666" stroke="none" stroke-width="1" />
<rect x="501.65" y="409.36" width="0.70" height="0.70" fill="#666" stroke="none" stroke-width="1" />
<rect x="341.05" y="405.18" width="1.00" height="0.70" fill="#666" stroke="none" stroke-width="1" />
<rect x="298.00" y="406.87" width="1.30" height="0.70" fill="#666" stroke="none" stroke-width="1" />
<rect x="634.32" y="402.86" width="1.00" height="0.70" fill="#666" stroke="none" stroke-width="1" />
<rect x="453.35" y="406.22" width="0.70" height="0.70" fill="#666" stroke="none" stroke-width="1" />
<rect x="389.51" y="408.07" width="1.00" height="0.70" fill="#666" stroke="none" stroke-width="1" />
<rect x="484.62" y="407.70" width="0.70" height="0.70" fill="#666" stroke="none" stroke-width="1" />
<rect x="743.64" y="403.49" width="1.00" height="0.70" fill="#666" stroke="none" stroke-width="1" />
<rect x="338.19" y="410.78" width="1.00" height="0.70" fill="#666" stroke="none" stroke-width="1" />
<rect x="329.97" y="411.27" width="1.00" height="0.70" fill="#666" stroke="none" stroke-width="1" />
<rect x="635.85" y="406.12" width="1.00" height="0.70" fill="#666" stroke="none" stroke-width="1" />
<rect x="434.45" y="408.88" width="1.30" height="0.70" fill="#666" stroke="none" stroke-width="1" />
<rect x="775.66" y="410.16" width="0.70" height="0.70" fill="#666" stroke="none" stroke-width="1" />
<rect x="675.70" y="411.45" width="1.30" height="0.70" fill="#666" stroke="none" stroke-width="1" />
<rect x="576.74" y="407.53" width="1.30" height="0.70" fill="#666" stroke="none" stroke-width="1" />
<rect x="538.78" y="405.97" width="1.30" height="0.70" fill="#666" stroke="none" stroke-width="1" />
<rect x="433.87" y="409.35" width="1.30" height="0.70" fill="#666" stroke="none" stroke-width="1" />
<rect x="374.72" y="408.61" width="1.30" height="0.70" fill="#666" stroke="none" stroke-width="1" />
<rect x="357.66" y="406.14" width="1.30" height="0.70" fill="#666" stroke="none" stroke-width="1" />
<rect x="517.93" y="403.77" width="1.30" height="0.70" fill="#666" stroke="none" stroke-width="1" />
<rect x="353.37" y="405.78" width="1.30" height="0.70" fill="#666" stroke="none" stroke-width="1" />
<rect x="620.68" y="406.58" width="1.00" height="0.70" fill="#666" stroke="none" stroke-width="1" />
<rect x="619.58" y="406.92" width="1.00" height="0.70" fill="#666" stroke="none" stroke-width="1" />
<rect x="690.44" y="409.15" width="0.70" height="0.70" fill="#666" stroke="none" stroke-width="1" />
<rect x="655.53" y="409.59" width="1.30" height="0.70" fill="#666" stroke="none" stroke-width="1" />
<rect x="581.90" y="406.33" width="0.70" height="0.70" fill="#666" stroke="none" stroke-width="1" />
<rect x="418.84" y="406.25" width="0.70" height="0.70" fill="#666" stroke="none" stroke-width="1" />
<rect x="301.15" y="407.34" width="0.70" height="0.70" fill="#666" stroke="none" stroke-width="1" />
<rect x="644.80" y="407.43" width="1.00" height="0.70" fill="#666" stroke="none" stroke-width="1" />
<rect x="776.09" y="406.83" width="0.70" height="0.70" fill="#666" stroke="none" stroke-width="1" />
<rect x="464.62" y="410.42" width="0.70" height="0.70" fill="#666" stroke="none" stroke-width="1" />
<rect x="358.73" y="408.11" width="1.30" height="0.70" fill="#666" stroke="none" stroke-width="1" />
<rect x="338.27" y="409.81" width="1.30" height="0.70" fill="#666" stroke="none" stroke-width="1" />
<rect x="337.96" y="409.08" width="1.30" height="0.70" fill="#666" stroke="none" stroke-width="1" />
<rect x="498.16" y="409.49" width="1.30" height="0.70" fill="#666" stroke="none" stroke-width="1" />
<rect x="346.58" y="408.27" width="1.00" height="0.70" fill="#666" stroke="none" stroke-width="1" />
<rect x="698.85" y="407.70" width="0.70" height="0.70" fill="#666" stroke="none" stroke-width="1" />
<rect x="577.96" y="404.62" width="1.00" height="0.70" fill="#666" stroke="none" stroke-width="1" />
<rect x="473.41" y="405.44" width="1.00" height="0.70" fill="#666" stroke="none" stroke-width="1" />
<rect x="747.77" y="411.34" width="1.00" height="0.70" fill="#666" stroke="none" stroke-width="1" />
<rect x="445.19" y="410.96" width="1.00" height="0.70" fill="#666" stroke="none" stroke-width="1" />
<rect x="612.30" y="411.59" width="1.30" height="0.70" fill="#666" stroke="none" stroke-width="1" />
<rect x="650.85" y="410.86" width="1.30" height="0.70" fill="#666" stroke="none" stroke-width="1" />
<rect x="533.62" y="408.21" width="1.30" height="0.70" fill="#666" stroke="none" stroke-width="1" />
<rect x="612.51" y="403.77" width="1.30" height="0.70" fill="#666" stroke="none" stroke-width="1" />
<rect x="401.98" y="404.36" width="1.30" height="0.70" fill="#666" stroke="none" stroke-width="1" />
<rect x="521.24" y="404.54" width="1.30" height="0.70" fill="#666" stroke="none" stroke-width="1" />
<rect x="390.45" y="410.11" width="1.30" height="0.70" fill="#666" stroke="none" stroke-width="1" />
<rect x="776.98" y="403.80" width="1.00" height="0.70" fill="#666" stroke="none" stroke-width="1" />
<rect x="783.45" y="410.83" width="0.70" height="0.70" fill="#666" stroke="none" stroke-width="1" />
<rect x="524.77" y="403.60" width="0.70" height="0.70" fill="#666" stroke="none" stroke-width="1" />
<rect x="292.42" y="408.37" width="1.30" height="0.70" fill="#666" stroke="none" stroke-width="1" />
<rect x="319.94" y="407.65" width="1.00" height="0.70" fill="#666" stroke="none" stroke-width="1" />
<rect x="448.96" y="410.63" width="1.30" height="0.70" fill="#666" stroke="none" stroke-width="1" />
<rect x="643.74" y="403.52" width="1.30" height="0.70" fill="#666" stroke="none" stroke-width="1" />
<rect x="686.83" y="403.11" width="0.70" height="0.70" fill="#666" stroke="none" stroke-width="1" />
<rect x="668.09" y="405.89" width="0.70" height="0.70" fill="#666" stroke="none" stroke-width="1" />
<rect x="769.10" y="410.55" width="1.00" height="0.70" fill="#666" stroke="none" stroke-width="1" />
<rect x="646.69" y="404.79" width="1.00" height="0.70" fill="#666" stroke="none" stroke-width="1" />
<rect x="336.40" y="403.18" width="0.70" height="0.70" fill="#666" stroke="none" stroke-width="1" />
<rect x="723.60" y="409.15" width="1.00" height="0.70" fill="#666" stroke="none" stroke-width="1" />
<rect x="540.50" y="409.09" width="1.30" height="0.70" fill="#666" stroke="none" stroke-width="1" />
<rect x="727.04" y="404.68" width="1.00" height="0.70" fill="#666" stroke="none" stroke-width="1" />
<rect x="439.25" y="406.98" width="1.30" height="0.70" fill="#666" stroke="none" stroke-width="1" />
<rect x="490.17" y="404.43" width="0.70" height="0.70" fill="#666" stroke="none" stroke-width="1" />
<rect x="657.56" y="406.10" width="1.00" height="0.70" fill="#666" stroke="none" stroke-width="1" />
<rect x="514.51" y="406.05" width="1.00" height="0.70" fill="#666" stroke="none" stroke-width="1" />
<rect x="396.74" y="402.82" width="0.70" height="0.70" fill="#666" stroke="none" stroke-width="1" />
<rect x="415.06" y="406.13" width="1.00" height="0.70" fill="#666" stroke="none" stroke-width="1" />
<rect x="559.79" y="404.23" width="0.70" height="0.70" fill="#666" stroke="none" stroke-width="1" />
<rect x="368.82" y="406.43" width="0.70" height="0.70" fill="#666" stroke="none" stroke-width="1" />
<rect x="613.91" y="404.05" width="1.30" height="0.70" fill="#666" stroke="none" stroke-width="1" />
<rect x="367.49" y="407.21" width="0.70" height="0.70" fill="#666" stroke="none" stroke-width="1" />
<rect x="721.68" y="406.43" width="1.00" height="0.70" fill="#666" stroke="none" stroke-width="1" />
<rect x="493.47" y="409.13" width="0.70" height="0.70" fill="#666" stroke="none" stroke-width="1" />
<rect x="404.84" y="403.15" width="1.00" height="0.70" fill="#666" stroke="none" stroke-width="1" />
<rect x="293.02" y="411.49" width="0.70" height="0.70" fill="#666" stroke="none" stroke-width="1" />
<rect x="406.06" y="406.30" width="0.70" height="0.70" fill="#666" stroke="none" stroke-width="1" />
<rect x="365.66" y="408.40" width="1.00" height="0.70" fill="#666" stroke="none" stroke-width="1" />
<rect x="759.07" y="408.15" width="1.30" height="0.70" fill="#666" stroke="none" stroke-width="1" />
<rect x="431.96" y="411.63" width="1.00" height="0.70" fill="#666" stroke="none" stroke-width="1" />
<rect x="694.15" y="411.45" width="1.00" height="0.70" fill="#666" stroke="none" stroke-width="1" />
<rect x="410.49" y="405.19" width="1.00" height="0.70" fill="#666" stroke="none" stroke-width="1" />
<rect x="609.91" y="405.90" width="0.70" height="0.70" fill="#666" stroke="none" stroke-width="1" />
<rect x="308.84" y="406.72" width="0.70" height="0.70" fill="#666" stroke="none" stroke-width="1" />
<rect x="590.53" y="402.83" width="0.70" height="0.70" fill="#666" stroke="none" stroke-width="1" />
<rect x="637.12" y="402.97" width="1.30" height="0.70" fill="#666" stroke="none" stroke-width="1" />
<rect x="298.25" y="403.29" width="1.30" height="0.70" fill="#666" stroke="none" stroke-width="1" />
<rect x="547.12" y="405.78" width="1.00" height="0.70" fill="#666" stroke="none" stroke-width="1" />
<rect x="457.83" y="407.11" width="1.00" height="0.70" fill="#666" stroke="none" stroke-width="1" />
<rect x="773.49" y="403.11" width="1.00" height="0.70" fill="#666" stroke="none" stroke-width="1" />
<rect x="674.33" y="408.48" width="1.00" height="0.70" fill="#666" stroke="none" stroke-width="1" />
<rect x="325.17" y="405.44" width="1.00" height="0.70" fill="#666" stroke="none" stroke-width="1" />
<rect x="339.32" y="406.31" width="1.00" height="0.70" fill="#666" stroke="none" stroke-width="1" />
<rect x="561.21" y="409.81" width="1.00" height="0.70" fill="#666" stroke="none" stroke-width="1" />
<rect x="370.86" y="409.46" width="1.30" height="0.70" fill="#666" stroke="none" stroke-width="1" />
<rect x="481.96" y="411.24" width="1.00" height="0.70" fill="#666" stroke="none" stroke-width="1" />
<rect x="764.76" y="406.07" width="1.00" height="0.70" fill="#666" stroke="none" stroke-width="1" />
<rect x="509.62" y="406.80" width="1.30" height="0.70" fill="#666" stroke="none" stroke-width="1" />
<rect x="531.80" y="405.23" width="0.70" height="0.70" fill="#666" stroke="none" stroke-width="1" />
<rect x="545.71" y="409.57" width="1.30" height="0.70" fill="#666" stroke="none" stroke-width="1" />
<rect x="645.59" y="411.35" width="0.70" height="0.70" fill="#666" stroke="none" stroke-width="1" />
<rect x="359.95" y="409.20" width="0.70" height="0.70" fill="#666" stroke="none" stroke-width="1" />
<rect x="711.79" y="403.63" width="1.30" height="0.70" fill="#666" stroke="none" stroke-width="1" />
<rect x="635.28" y="403.67" width="0.70" height="0.70" fill="#666" stroke="none" stroke-width="1" />
<rect x="594.96" y="410.01" width="0.70" height="0.70" fill="#666" stroke="none" stroke-width="1" />
<rect x="741.11" y="410.65" width="1.00" height="0.70" fill="#666" stroke="none" stroke-width="1" />
<rect x="524.35" y="410.62" width="1.30" height="0.70" fill="#666" stroke="none" stroke-width="1" />
<rect x="454.53" y="406.13" width="0.70" height="0.70" fill="#666" stroke="none" stroke-width="1" />
<rect x="381.49" y="409.88" width="0.70" height="0.70" fill="#666" stroke="none" stroke-width="1" />
<rect x="457.04" y="405.60" width="1.00" height="0.70" fill="#666" stroke="none" stroke-width="1" />
<rect x="321.55" y="408.64" width="0.70" height="0.70" fill="#666" stroke="none" stroke-width="1" />
<rect x="640.99" y="411.60" width="1.30" height="0.70" fill="#666" stroke="none" stroke-width="1" />
<rect x="354.27" y="411.67" width="0.70" height="0.70" fill="#666" stroke="none" stroke-width="1" />
<rect x="399.94" y="411.51" width="0.70" height="0.70" fill="#666" stroke="none" stroke-width="1" />
<rect x="726.50" y="407.44" width="1.30" height="0.70" fill="#666" stroke="none" stroke-width="1" />
<rect x="689.88" y="408.24" width="1.30" height="0.70" fill="#666" stroke="none" stroke-width="1" />
<rect x="690.42" y="407.01" width="1.30" height="0.70" fill="#666" stroke="none" stroke-width="1" />
<rect x="320.62" y="410.23" width="0.70" height="0.70" fill="#666" stroke="none" stroke-width="1" />
<rect x="593.63" y="410.53" width="0.70" height="0.70" fill="#666" stroke="none" stroke-width="1" />
<rect x="383.81" y="410.84" width="0.70" height="0.70" fill="#666" stroke="none" stroke-width="1" />
<rect x="336.36" y="406.39" width="1.30" height="0.70" fill="#666" stroke="none" stroke-width="1" />
<rect x="602.71" y="408.58" width="1.30" height="0.70" fill="#666" stroke="none" stroke-width="1" />
<rect x="737.51" y="405.91" width="1.30" height="0.70" fill="#666" stroke="none" stroke-width="1" />
<rect x="626.73" y="409.80" width="1.00" height="0.70" fill="#666" stroke="none" stroke-width="1" />
<rect x="718.41" y="408.15" width="1.00" height="0.70" fill="#666" stroke="none" stroke-width="1" />
<rect x="387.35" y="407.65" width="1.00" height="0.70" fill="#666" stroke="none" stroke-width="1" />
<rect x="436.42" y="408.58" width="1.00" height="0.70" fill="#666" stroke="none" stroke-width="1" />
<rect x="461.07" y="407.16" width="0.70" height="0.70" fill="#666" stroke="none" stroke-width="1" />
<rect x="764.99" y="408.98" width="1.00" height="0.70" fill="#666" stroke="none" stroke-width="1" />
<rect x="501.42" y="408.64" width="1.30" height="0.70" fill="#666" stroke="none" stroke-width="1" />
<rect x="551.83" y="405.05" width="0.70" height="0.70" fill="#666" stroke="none" stroke-width="1" />
<rect x="455.32" y="406.68" width="0.70" height="0.70" fill="#666" stroke="none" stroke-width="1" />
<rect x="410.99" y="405.71" width="1.30" height="0.70" fill="#666" stroke="none" stroke-width="1" />
<rect x="768.67" y="409.34" width="1.30" height="0.70" fill="#666" stroke="none" stroke-width="1" />
<rect x="600.99" y="411.18" width="1.30" height="0.70" fill="#666" stroke="none" stroke-width="1" />
<rect x="727.45" y="406.11" width="0.70" height="0.70" fill="#666" stroke="none" stroke-width="1" />
<rect x="754.03" y="411.35" width="1.00" height="0.70" fill="#666" stroke="none" stroke-width="1" />
<rect x="749.09" y="411.65" width="1.00" height="0.70" fill="#666" stroke="none" stroke-width="1" />
<rect x="803.58" y="411.08" width="1.00" height="0.70" fill="#666" stroke="none" stroke-width="1" />
<rect x="782.64" y="402.96" width="0.70" height="0.70" fill="#666" stroke="none" stroke-width="1" />
<rect x="293.87" y="404.16" width="1.30" height="0.70" fill="#666" stroke="none" stroke-width="1" />
<rect x="552.23" y="408.55" width="0.70" height="0.70" fill="#666" stroke="none" stroke-width="1" />
<rect x="381.47" y="404.67" width="1.00" height="0.70" fill="#666" stroke="none" stroke-width="1" />
<rect x="506.44" y="405.90" width="1.30" height="0.70" fill="#666" stroke="none" stroke-width="1" />
<rect x="382.48" y="409.84" width="0.70" height="0.70" fill="#666" stroke="none" stroke-width="1" />
<rect x="333.37" y="405.49" width="1.00" height="0.70" fill="#666" stroke="none" stroke-width="1" />
<rect x="512.46" y="404.65" width="1.00" height="0.70" fill="#666" stroke="none" stroke-width="1" />
<rect x="680.20" y="409.10" width="1.00" height="0.70" fill="#666" stroke="none" stroke-width="1" />
<rect x="794.30" y="410.69" width="1.00" height="0.70" fill="#666" stroke="none" stroke-width="1" />
<rect x="774.92" y="406.68" width="1.00" height="0.70" fill="#666" stroke="none" stroke-width="1" />
<rect x="528.38" y="411.79" width="0.70" height="0.70" fill="#666" stroke="none" stroke-width="1" />
<rect x="468.21" y="410.47" width="1.00" height="0.70" fill="#666" stroke="none" stroke-width="1" />
<rect x="294.47" y="406.16" width="1.00" height="0.70" fill="#666" stroke="none" stroke-width="1" />
<rect x="703.55" y="405.48" width="0.70" height="0.70" fill="#666" stroke="none" stroke-width="1" />
<rect x="768.25" y="407.48" width="0.70" height="0.70" fill="#666" stroke="none" stroke-width="1" />
<rect x="348.16" y="407.58" width="1.30" height="0.70" fill="#666" stroke="none" stroke-width="1" />
<rect x="289.97" y="411.35" width="0.70" height="0.70" fill="#666" stroke="none" stroke-width="1" />
<rect x="386.27" y="409.73" width="1.00" height="0.70" fill="#666" stroke="none" stroke-width="1" />
<rect x="465.67" y="411.49" width="1.00" height="0.70" fill="#666" stroke="none" stroke-width="1" />
<rect x="794.08" y="403.12" width="0.70" height="0.70" fill="#666" stroke="none" stroke-width="1" />
<rect x="404.58" y="405.29" width="1.00" height="0.70" fill="#666" stroke="none" stroke-width="1" />
<rect x="718.49" y="408.23" width="0.70" height="0.70" fill="#666" stroke="none" stroke-width="1" />
<rect x="515.71" y="405.16" width="1.30" height="0.70" fill="#666" stroke="none" stroke-width="1" />
<rect x="700.92" y="406.56" width="1.00" height="0.70" fill="#666" stroke="none" stroke-width="1" />
<rect x="457.59" y="403.06" width="0.70" height="0.70" fill="#666" stroke="none" stroke-width="1" />
<rect x="609.06" y="408.88" width="1.30" height="0.70" fill="#666" stroke="none" stroke-width="1" />
<rect x="409.12" y="404.02" width="1.00" height="0.70" fill="#666" stroke="none" stroke-width="1" />
<rect x="546.64" y="410.28" width="1.30" height="0.70" fill="#666" stroke="none" stroke-width="1" />
<rect x="349.34" y="402.95" width="0.70" height="0.70" fill="#666" stroke="none" stroke-width="1" />
<rect x="287.97" y="408.59" width="1.00" height="0.70" fill="#666" stroke="none" stroke-width="1" />
<rect x="524.90" y="408.79" width="1.30" height="0.70" fill="#666" stroke="none" stroke-width="1" />
<rect x="550.02" y="406.14" width="1.30" height="0.70" fill="#666" stroke="none" stroke-width="1" />
<rect x="368.84" y="404.45" width="1.30" height="0.70" fill="#666" stroke="none" stroke-width="1" />
<rect x="352.41" y="410.29" width="0.70" height="0.70" fill="#666" stroke="none" stroke-width="1" />
<rect x="493.68" y="405.97" width="1.00" height="0.70" fill="#666" stroke="none" stroke-width="1" />
<rect x="425.46" y="405.10" width="1.00" height="0.70" fill="#666" stroke="none" stroke-width="1" />
<rect x="783.57" y="404.20" width="1.00" height="0.70" fill="#666" stroke="none" stroke-width="1" />
<rect x="352.46" y="403.14" width="1.00" height="0.70" fill="#666" stroke="none" stroke-width="1" />
<rect x="726.66" y="410.25" width="1.30" height="0.70" fill="#666" stroke="none" stroke-width="1" />
<rect x="601.16" y="403.08" width="1.30" height="0.70" fill="#666" stroke="none" stroke-width="1" />
<rect x="593.41" y="403.84" width="0.70" height="0.70" fill="#666" stroke="none" stroke-width="1" />
<rect x="426.20" y="409.18" width="1.00" height="0.70" fill="#666" stroke="none" stroke-width="1" />
<rect x="332.89" y="408.82" width="1.00" height="0.70" fill="#666" stroke="none" stroke-width="1" />
<rect x="296.70" y="407.18" width="1.30" height="0.70" fill="#666" stroke="none" stroke-width="1" />
<rect x="514.57" y="405.60" width="1.00" height="0.70" fill="#666" stroke="none" stroke-width="1" />
<rect x="374.27" y="406.25" width="1.00" height="0.70" fill="#666" stroke="none" stroke-width="1" />
<rect x="445.32" y="405.24" width="0.70" height="0.70" fill="#666" stroke="none" stroke-width="1" />
<rect x="775.44" y="405.66" width="1.00" height="0.70" fill="#666" stroke="none" stroke-width="1" />
<rect x="571.02" y="403.12" width="1.00" height="0.70" fill="#666" stroke="none" stroke-width="1" />
<rect x="410.62" y="411.62" width="0.70" height="0.70" fill="#666" stroke="none" stroke-width="1" />
<rect x="539.48" y="411.41" width="1.30" height="0.70" fill="#666" stroke="none" stroke-width="1" />
<rect x="320.83" y="407.54" width="1.30" height="0.70" fill="#666" stroke="none" stroke-width="1" />
<rect x="611.58" y="403.91" width="0.70" height="0.70" fill="#666" stroke="none" stroke-width="1" />
<rect x="774.56" y="411.57" width="1.30" height="0.70" fill="#666" stroke="none" stroke-width="1" />
<rect x="315.49" y="405.21" width="1.00" height="0.70" fill="#666" stroke="none" stroke-width="1" />
<rect x="521.89" y="405.40" width="1.30" height="0.70" fill="#666" stroke="none" stroke-width="1" />
<rect x="303.79" y="404.92" width="0.70" height="0.70" fill="#666" stroke="none" stroke-width="1" />
<rect x="354.86" y="410.95" width="0.70" height="0.70" fill="#666" stroke="none" stroke-width="1" />
<rect x="641.95" y="407.01" width="1.00" height="0.70" fill="#666" stroke="none" stroke-width="1" />
<rect x="619.29" y="404.08" width="0.70" height="0.70" fill="#666" stroke="none" stroke-width="1" />
<rect x="373.84" y="408.44" width="1.00" height="0.70" fill="#666" stroke="none" stroke-width="1" />
<rect x="378.73" y="410.20" width="0.70" height="0.70" fill="#666" stroke="none" stroke-width="1" />
<rect x="304.67" y="411.45" width="1.30" height="0.70" fill="#666" stroke="none" stroke-width="1" />
<rect x="391.71" y="409.81" width="1.00" height="0.70" fill="#666" stroke="none" stroke-width="1" />
<rect x="484.07" y="411.69" width="1.00" height="0.70" fill="#666" stroke="none" stroke-width="1" />
<rect x="333.96" y="403.84" width="1.00" height="0.70" fill="#666" stroke="none" stroke-width="1" />
<rect x="345.75" y="405.97" width="1.30" height="0.70" fill="#666" stroke="none" stroke-width="1" />
<rect x="319.48" y="404.53" width="1.00" height="0.70" fill="#666" stroke="none" stroke-width="1" />
<rect x="803.37" y="411.62" width="0.70" height="0.70" fill="#666" stroke="none" stroke-width="1" />
<rect x="312.82" y="407.71" width="1.00" height="0.70" fill="#666" stroke="none" stroke-width="1" />
<rect x="333.60" y="410.42" width="1.00" height="0.70" fill="#666" stroke="none" stroke-width="1" />
<rect x="290.23" y="405.91" width="1.30" height="0.70" fill="#666" stroke="none" stroke-width="1" />
<rect x="728.24" y="406.78" width="1.00" height="0.70" fill="#666" stroke="none" stroke-width="1" />
<rect x="523.10" y="407.64" width="1.00" height="0.70" fill="#666" stroke="none" stroke-width="1" />
<rect x="357.43" y="406.91" width="1.00" height="0.70" fill="#666" stroke="none" stroke-width="1" />
<rect x="384.44" y="408.15" width="1.30" height="0.70" fill="#666" stroke="none" stroke-width="1" />
<rect x="725.23" y="404.42" width="0.70" height="0.70" fill="#666" stroke="none" stroke-width="1" />
<rect x="445.69" y="410.36" width="0.70" height="0.70" fill="#666" stroke="none" stroke-width="1" />
<rect x="306.91" y="411.61" width="1.00" height="0.70" fill="#666" stroke="none" stroke-width="1" />
<rect x="602.18" y="404.40" width="1.30" height="0.70" fill="#666" stroke="none" stroke-width="1" />
<rect x="286.32" y="410.63" width="1.00" height="0.70" fill="#666" stroke="none" stroke-width="1" />
<rect x="800.56" y="408.97" width="1.30" height="0.70" fill="#666" stroke="none" stroke-width="1" />
<rect x="645.63" y="405.28" width="1.00" height="0.70" fill="#666" stroke="none" stroke-width="1" />
<rect x="563.24" y="406.77" width="0.70" height="0.70" fill="#666" stroke="none" stroke-width="1" />
<rect x="589.59" y="404.77" width="1.00" height="0.70" fill="#666" stroke="none" stroke-width="1" />
<rect x="545.36" y="406.16" width="1.00" height="0.70" fill="#666" stroke="none" stroke-width="1" />
<rect x="589.89" y="409.12" width="1.30" height="0.70" fill="#666" stroke="none" stroke-width="1" />
<rect x="771.42" y="410.56" width="1.00" height="0.70" fill="#666" stroke="none" stroke-width="1" />
<rect x="429.85" y="411.59" width="1.00" height="0.70" fill="#666" stroke="none" stroke-width="1" />
<rect x="374.92" y="408.22" width="0.70" height="0.70" fill="#666" stroke="none" stroke-width="1" />
<rect x="664.15" y="405.87" width="1.30" height="0.70" fill="#666" stroke="none" stroke-width="1" />
<rect x="409.77" y="406.71" width="1.00" height="0.70" fill="#666" stroke="none" stroke-width="1" />
<rect x="517.23" y="407.10" width="1.30" height="0.70" fill="#666" stroke="none" stroke-width="1" />
<rect x="693.83" y="404.38" width="1.30" height="0.70" fill="#666" stroke="none" stroke-width="1" />
<rect x="556.98" y="406.77" width="1.30" height="0.70" fill="#666" stroke="none" stroke-width="1" />
<rect x="306.13" y="406.56" width="1.30" height="0.70" fill="#666" stroke="none" stroke-width="1" />
<rect x="724.77" y="409.80" width="0.70" height="0.70" fill="#666" stroke="none" stroke-width="1" />
<rect x="403.33" y="406.24" width="0.70" height="0.70" fill="#666" stroke="none" stroke-width="1" />
<rect x="795.15" y="406.10" width="0.70" height="0.70" fill="#666" stroke="none" stroke-width="1" />
<rect x="308.11" y="407.25" width="0.70" height="0.70" fill="#666" stroke="none" stroke-width="1" />
<rect x="505.76" y="410.61" width="1.30" height="0.70" fill="#666" stroke="none" stroke-width="1" />
<rect x="573.77" y="402.91" width="1.00" height="0.70" fill="#666" stroke="none" stroke-width="1" />
<rect x="544.80" y="406.39" width="1.00" height="0.70" fill="#666" stroke="none" stroke-width="1" />
<rect x="756.54" y="408.97" width="0.70" height="0.70" fill="#666" stroke="none" stroke-width="1" />
<rect x="586.40" y="404.12" width="0.70" height="0.70" fill="#666" stroke="none" stroke-width="1" />
<rect x="279.02" y="403.38" width="0.70" height="0.70" fill="#666" stroke="none" stroke-width="1" />
<rect x="352.39" y="403.53" width="1.00" height="0.70" fill="#666" stroke="none" stroke-width="1" />
<rect x="507.90" y="404.57" width="0.70" height="0.70" fill="#666" stroke="none" stroke-width="1" />
<rect x="562.41" y="411.09" width="1.30" height="0.70" fill="#666" stroke="none" stroke-width="1" />
<rect x="512.78" y="406.08" width="1.30" height="0.70" fill="#666" stroke="none" stroke-width="1" />
<rect x="719.63" y="411.02" width="1.00" height="0.70" fill="#666" stroke="none" stroke-width="1" />
<rect x="457.43" y="408.06" width="1.30" height="0.70" fill="#666" stroke="none" stroke-width="1" />
<rect x="741.87" y="406.20" width="1.00" height="0.70" fill="#666" stroke="none" stroke-width="1" />
<rect x="352.07" y="405.56" width="1.30" height="0.70" fill="#666" stroke="none" stroke-width="1" />
<rect x="378.89" y="410.21" width="1.30" height="0.70" fill="#666" stroke="none" stroke-width="1" />
<rect x="743.22" y="406.68" width="1.00" height="0.70" fill="#666" stroke="none" stroke-width="1" />
<rect x="480.36" y="407.21" width="0.70" height="0.70" fill="#666" stroke="none" stroke-width="1" />
<rect x="527.62" y="404.06" width="0.70" height="0.70" fill="#666" stroke="none" stroke-width="1" />
<rect x="548.16" y="406.69" width="1.30" height="0.70" fill="#666" stroke="none" stroke-width="1" />
<rect x="778.54" y="405.48" width="1.00" height="0.70" fill="#666" stroke="none" stroke-width="1" />
<rect x="330.04" y="411.61" width="1.30" height="0.70" fill="#666" stroke="none" stroke-width="1" />
<rect x="740.67" y="403.38" width="1.30" height="0.70" fill="#666" stroke="none" stroke-width="1" />
<rect x="800.68" y="403.39" width="0.70" height="0.70" fill="#666" stroke="none" stroke-width="1" />
<rect x="449.62" y="411.01" width="1.30" height="0.70" fill="#666" stroke="none" stroke-width="1" />
<rect x="749.46" y="410.24" width="1.00" height="0.70" fill="#666" stroke="none" stroke-width="1" />
<rect x="617.84" y="410.73" width="0.70" height="0.70" fill="#666" stroke="none" stroke-width="1" />
<line x1="278.75" y1="412.50" x2="834.50" y2="412.50" stroke="#000" stroke-width="1" />
<rect x="259.75" y="402.00" width="19.00" height="10.50" fill="url(#hat)" stroke="#000" stroke-width="1.5" />
<rect x="532.00" y="400.50" width="19.20" height="12.00" fill="url(#hat)" stroke="#000" stroke-width="1.5" />
<rect x="805.50" y="402.00" width="20.50" height="10.50" fill="url(#hat)" stroke="#000" stroke-width="1.5" />
<polygon points="817.5,396 826,398.5 826,402.3 817.5,402.3" fill="#000"/>
<polygon points="266.7,396 259.5,398.5 259.5,402.3 266.7,402.3" fill="#000"/>
<line x1="826.00" y1="402.00" x2="863.00" y2="402.00" stroke="#000" stroke-width="2" />
<path d="M822 398 L845 401" stroke="#000" stroke-width="1.2" fill="none" />
<rect x="630" y="411.6" width="9" height="1.8" fill="#fff"/>
<path d="M629 412.5 L632.7 412.5 L634.3 416.7 L635.8 408 L637 412.5 L641 412.5" stroke="#000" stroke-width="1.1" fill="none" />
<g transform="translate(0,267.625) skewY(-7.2378)">
<line x1="75.00" y1="0.00" x2="262.00" y2="0.00" stroke="#000" stroke-width="2.4" />
<line x1="80.25" y1="5.90" x2="262.00" y2="5.90" stroke="#000" stroke-width="1.5" />
<line x1="80.25" y1="16.20" x2="262.00" y2="16.20" stroke="#000" stroke-width="1.5" />
<line x1="80.25" y1="5.90" x2="80.25" y2="16.40" stroke="#000" stroke-width="1.5" />
<line x1="261.30" y1="5.90" x2="261.30" y2="16.20" stroke="#000" stroke-width="1.3" />
<line x1="83.50" y1="0.50" x2="83.50" y2="5.90" stroke="#000" stroke-width="2" />
<line x1="98.82" y1="0.50" x2="98.82" y2="5.90" stroke="#000" stroke-width="2" />
<line x1="114.14" y1="0.50" x2="114.14" y2="5.90" stroke="#000" stroke-width="2" />
<line x1="129.46" y1="0.50" x2="129.46" y2="5.90" stroke="#000" stroke-width="2" />
<line x1="144.78" y1="0.50" x2="144.78" y2="5.90" stroke="#000" stroke-width="2" />
<line x1="160.10" y1="0.50" x2="160.10" y2="5.90" stroke="#000" stroke-width="2" />
<line x1="175.42" y1="0.50" x2="175.42" y2="5.90" stroke="#000" stroke-width="2" />
<line x1="190.74" y1="0.50" x2="190.74" y2="5.90" stroke="#000" stroke-width="2" />
<line x1="206.06" y1="0.50" x2="206.06" y2="5.90" stroke="#000" stroke-width="2" />
<line x1="221.38" y1="0.50" x2="221.38" y2="5.90" stroke="#000" stroke-width="2" />
<line x1="236.70" y1="0.50" x2="236.70" y2="5.90" stroke="#000" stroke-width="2" />
<line x1="252.02" y1="0.50" x2="252.02" y2="5.90" stroke="#000" stroke-width="2" />
</g>
<path d="M80.25 274.12525 Q82.25 277.62525 86.25 272.62525" stroke="#000" stroke-width="1.3" fill="none" />
<line x1="80.25" y1="276.50" x2="84.25" y2="276.50" stroke="#000" stroke-width="1.2" />
<path d="M250.8 252.40189999999998 Q253.05 255.90189999999998 257.3 250.90189999999998" stroke="#000" stroke-width="1.3" fill="none" />
<line x1="250.80" y1="254.50" x2="255.30" y2="254.50" stroke="#000" stroke-width="1.2" />
<line x1="80.25" y1="274.00" x2="80.25" y2="397.40" stroke="#000" stroke-width="1.6" />
<line x1="84.25" y1="277.00" x2="84.25" y2="397.40" stroke="#000" stroke-width="1.6" />
<line x1="250.80" y1="253.00" x2="250.80" y2="397.40" stroke="#000" stroke-width="1.6" />
<line x1="255.30" y1="254.00" x2="255.30" y2="397.40" stroke="#000" stroke-width="1.6" />
<rect x="77.00" y="397.40" width="181.00" height="7.20" fill="url(#hat2)" stroke="#000" stroke-width="1.4" />
<line x1="66.00" y1="405.00" x2="258.00" y2="405.00" stroke="#000" stroke-width="2.2" />
<rect x="77.00" y="406.00" width="10.60" height="9.60" fill="url(#hat)" stroke="#000" stroke-width="1.5" />
<rect x="248.00" y="406.00" width="10.50" height="9.50" fill="url(#hat)" stroke="#000" stroke-width="1.5" />
<rect x="228.58" y="407.81" width="1.00" height="0.70" fill="#777" stroke="none" stroke-width="1" />
<rect x="240.33" y="406.84" width="1.30" height="0.70" fill="#777" stroke="none" stroke-width="1" />
<rect x="92.22" y="412.58" width="1.30" height="0.70" fill="#777" stroke="none" stroke-width="1" />
<rect x="126.07" y="411.89" width="0.70" height="0.70" fill="#777" stroke="none" stroke-width="1" />
<rect x="124.93" y="409.55" width="1.30" height="0.70" fill="#777" stroke="none" stroke-width="1" />
<rect x="150.97" y="408.74" width="1.00" height="0.70" fill="#777" stroke="none" stroke-width="1" />
<rect x="193.17" y="409.93" width="0.70" height="0.70" fill="#777" stroke="none" stroke-width="1" />
<rect x="179.12" y="408.73" width="1.30" height="0.70" fill="#777" stroke="none" stroke-width="1" />
<rect x="109.13" y="409.96" width="1.30" height="0.70" fill="#777" stroke="none" stroke-width="1" />
<rect x="170.37" y="408.55" width="1.30" height="0.70" fill="#777" stroke="none" stroke-width="1" />
<rect x="224.35" y="411.30" width="0.70" height="0.70" fill="#777" stroke="none" stroke-width="1" />
<rect x="159.08" y="411.19" width="1.00" height="0.70" fill="#777" stroke="none" stroke-width="1" />
<rect x="188.11" y="409.71" width="0.70" height="0.70" fill="#777" stroke="none" stroke-width="1" />
<rect x="117.21" y="407.17" width="1.00" height="0.70" fill="#777" stroke="none" stroke-width="1" />
<rect x="107.04" y="412.44" width="1.00" height="0.70" fill="#777" stroke="none" stroke-width="1" />
<rect x="221.91" y="408.55" width="0.70" height="0.70" fill="#777" stroke="none" stroke-width="1" />
<rect x="139.99" y="408.10" width="1.30" height="0.70" fill="#777" stroke="none" stroke-width="1" />
<rect x="220.45" y="406.87" width="1.00" height="0.70" fill="#777" stroke="none" stroke-width="1" />
<rect x="146.34" y="407.95" width="1.00" height="0.70" fill="#777" stroke="none" stroke-width="1" />
<rect x="127.86" y="408.21" width="1.30" height="0.70" fill="#777" stroke="none" stroke-width="1" />
<rect x="241.55" y="411.26" width="0.70" height="0.70" fill="#777" stroke="none" stroke-width="1" />
<rect x="123.05" y="409.37" width="1.30" height="0.70" fill="#777" stroke="none" stroke-width="1" />
<rect x="114.76" y="409.64" width="0.70" height="0.70" fill="#777" stroke="none" stroke-width="1" />
<rect x="122.25" y="410.86" width="1.30" height="0.70" fill="#777" stroke="none" stroke-width="1" />
<rect x="124.94" y="410.95" width="1.30" height="0.70" fill="#777" stroke="none" stroke-width="1" />
<rect x="150.68" y="410.01" width="1.30" height="0.70" fill="#777" stroke="none" stroke-width="1" />
<rect x="116.18" y="408.46" width="1.00" height="0.70" fill="#777" stroke="none" stroke-width="1" />
<rect x="96.90" y="411.61" width="1.00" height="0.70" fill="#777" stroke="none" stroke-width="1" />
<rect x="165.94" y="410.26" width="1.00" height="0.70" fill="#777" stroke="none" stroke-width="1" />
<rect x="170.64" y="409.23" width="1.00" height="0.70" fill="#777" stroke="none" stroke-width="1" />
<rect x="123.28" y="411.81" width="1.00" height="0.70" fill="#777" stroke="none" stroke-width="1" />
<rect x="143.01" y="412.97" width="1.00" height="0.70" fill="#777" stroke="none" stroke-width="1" />
<rect x="208.54" y="407.25" width="1.00" height="0.70" fill="#777" stroke="none" stroke-width="1" />
<rect x="141.88" y="411.26" width="1.30" height="0.70" fill="#777" stroke="none" stroke-width="1" />
<rect x="139.09" y="408.77" width="0.70" height="0.70" fill="#777" stroke="none" stroke-width="1" />
<rect x="223.28" y="409.61" width="1.30" height="0.70" fill="#777" stroke="none" stroke-width="1" />
<rect x="112.16" y="412.49" width="1.00" height="0.70" fill="#777" stroke="none" stroke-width="1" />
<rect x="166.34" y="410.29" width="1.30" height="0.70" fill="#777" stroke="none" stroke-width="1" />
<rect x="120.30" y="407.11" width="1.30" height="0.70" fill="#777" stroke="none" stroke-width="1" />
<rect x="182.27" y="410.30" width="1.30" height="0.70" fill="#777" stroke="none" stroke-width="1" />
<rect x="228.65" y="410.02" width="1.00" height="0.70" fill="#777" stroke="none" stroke-width="1" />
<rect x="220.92" y="411.36" width="1.00" height="0.70" fill="#777" stroke="none" stroke-width="1" />
<rect x="234.87" y="409.25" width="1.30" height="0.70" fill="#777" stroke="none" stroke-width="1" />
<rect x="204.88" y="408.78" width="1.00" height="0.70" fill="#777" stroke="none" stroke-width="1" />
<rect x="146.84" y="407.68" width="1.00" height="0.70" fill="#777" stroke="none" stroke-width="1" />
<rect x="198.92" y="410.16" width="1.00" height="0.70" fill="#777" stroke="none" stroke-width="1" />
<rect x="201.38" y="408.61" width="0.70" height="0.70" fill="#777" stroke="none" stroke-width="1" />
<rect x="138.83" y="411.21" width="0.70" height="0.70" fill="#777" stroke="none" stroke-width="1" />
<rect x="174.05" y="409.53" width="1.00" height="0.70" fill="#777" stroke="none" stroke-width="1" />
<rect x="175.90" y="408.88" width="1.30" height="0.70" fill="#777" stroke="none" stroke-width="1" />
<rect x="96.71" y="409.63" width="0.70" height="0.70" fill="#777" stroke="none" stroke-width="1" />
<rect x="114.36" y="410.83" width="0.70" height="0.70" fill="#777" stroke="none" stroke-width="1" />
<rect x="104.03" y="409.99" width="1.00" height="0.70" fill="#777" stroke="none" stroke-width="1" />
<rect x="226.10" y="409.85" width="1.00" height="0.70" fill="#777" stroke="none" stroke-width="1" />
<rect x="131.60" y="409.62" width="1.30" height="0.70" fill="#777" stroke="none" stroke-width="1" />
<rect x="137.96" y="412.62" width="0.70" height="0.70" fill="#777" stroke="none" stroke-width="1" />
<rect x="121.67" y="407.22" width="1.00" height="0.70" fill="#777" stroke="none" stroke-width="1" />
<rect x="157.01" y="408.20" width="1.30" height="0.70" fill="#777" stroke="none" stroke-width="1" />
<rect x="117.59" y="410.21" width="1.30" height="0.70" fill="#777" stroke="none" stroke-width="1" />
<rect x="238.62" y="410.84" width="0.70" height="0.70" fill="#777" stroke="none" stroke-width="1" />
<rect x="244.68" y="411.64" width="1.30" height="0.70" fill="#777" stroke="none" stroke-width="1" />
<rect x="142.57" y="407.20" width="1.30" height="0.70" fill="#777" stroke="none" stroke-width="1" />
<rect x="109.53" y="407.04" width="1.00" height="0.70" fill="#777" stroke="none" stroke-width="1" />
<rect x="141.10" y="407.25" width="0.70" height="0.70" fill="#777" stroke="none" stroke-width="1" />
<rect x="114.28" y="410.84" width="1.00" height="0.70" fill="#777" stroke="none" stroke-width="1" />
<rect x="246.24" y="407.36" width="1.00" height="0.70" fill="#777" stroke="none" stroke-width="1" />
<rect x="206.43" y="409.78" width="1.30" height="0.70" fill="#777" stroke="none" stroke-width="1" />
<rect x="179.30" y="412.86" width="1.00" height="0.70" fill="#777" stroke="none" stroke-width="1" />
<rect x="128.94" y="410.04" width="1.30" height="0.70" fill="#777" stroke="none" stroke-width="1" />
<rect x="231.26" y="407.50" width="0.70" height="0.70" fill="#777" stroke="none" stroke-width="1" />
<rect x="115.02" y="410.66" width="0.70" height="0.70" fill="#777" stroke="none" stroke-width="1" />
<rect x="213.75" y="407.35" width="1.30" height="0.70" fill="#777" stroke="none" stroke-width="1" />
<rect x="239.55" y="412.01" width="1.30" height="0.70" fill="#777" stroke="none" stroke-width="1" />
<rect x="190.43" y="408.17" width="1.30" height="0.70" fill="#777" stroke="none" stroke-width="1" />
<rect x="176.51" y="411.35" width="1.00" height="0.70" fill="#777" stroke="none" stroke-width="1" />
<rect x="120.23" y="407.53" width="1.30" height="0.70" fill="#777" stroke="none" stroke-width="1" />
<rect x="99.73" y="409.28" width="1.00" height="0.70" fill="#777" stroke="none" stroke-width="1" />
<rect x="111.76" y="410.04" width="1.30" height="0.70" fill="#777" stroke="none" stroke-width="1" />
<rect x="217.58" y="411.25" width="1.00" height="0.70" fill="#777" stroke="none" stroke-width="1" />
<rect x="109.75" y="410.56" width="1.30" height="0.70" fill="#777" stroke="none" stroke-width="1" />
<rect x="109.96" y="406.55" width="0.70" height="0.70" fill="#777" stroke="none" stroke-width="1" />
<rect x="188.01" y="409.87" width="1.30" height="0.70" fill="#777" stroke="none" stroke-width="1" />
<rect x="160.47" y="412.96" width="1.30" height="0.70" fill="#777" stroke="none" stroke-width="1" />
<rect x="158.39" y="407.64" width="0.70" height="0.70" fill="#777" stroke="none" stroke-width="1" />
<rect x="99.12" y="410.94" width="1.00" height="0.70" fill="#777" stroke="none" stroke-width="1" />
<rect x="115.16" y="406.71" width="1.30" height="0.70" fill="#777" stroke="none" stroke-width="1" />
<rect x="203.49" y="411.92" width="1.00" height="0.70" fill="#777" stroke="none" stroke-width="1" />
<rect x="104.16" y="411.71" width="1.00" height="0.70" fill="#777" stroke="none" stroke-width="1" />
<rect x="89.85" y="409.98" width="1.30" height="0.70" fill="#777" stroke="none" stroke-width="1" />
<rect x="202.68" y="410.58" width="1.00" height="0.70" fill="#777" stroke="none" stroke-width="1" />
<rect x="159.94" y="411.70" width="1.00" height="0.70" fill="#777" stroke="none" stroke-width="1" />
<rect x="122.17" y="407.53" width="1.00" height="0.70" fill="#777" stroke="none" stroke-width="1" />
<rect x="103.25" y="408.55" width="1.30" height="0.70" fill="#777" stroke="none" stroke-width="1" />
<rect x="106.23" y="410.83" width="0.70" height="0.70" fill="#777" stroke="none" stroke-width="1" />
<rect x="134.11" y="406.66" width="0.70" height="0.70" fill="#777" stroke="none" stroke-width="1" />
<rect x="181.56" y="407.95" width="1.00" height="0.70" fill="#777" stroke="none" stroke-width="1" />
<rect x="178.47" y="408.22" width="1.30" height="0.70" fill="#777" stroke="none" stroke-width="1" />
<rect x="148.63" y="412.34" width="0.70" height="0.70" fill="#777" stroke="none" stroke-width="1" />
<rect x="170.94" y="409.27" width="1.00" height="0.70" fill="#777" stroke="none" stroke-width="1" />
<rect x="215.20" y="407.66" width="1.00" height="0.70" fill="#777" stroke="none" stroke-width="1" />
<rect x="167.52" y="407.15" width="1.30" height="0.70" fill="#777" stroke="none" stroke-width="1" />
<rect x="237.25" y="407.46" width="1.30" height="0.70" fill="#777" stroke="none" stroke-width="1" />
<rect x="108.05" y="413.00" width="0.70" height="0.70" fill="#777" stroke="none" stroke-width="1" />
<rect x="123.92" y="409.92" width="1.00" height="0.70" fill="#777" stroke="none" stroke-width="1" />
<rect x="107.41" y="409.75" width="1.00" height="0.70" fill="#777" stroke="none" stroke-width="1" />
<rect x="215.59" y="411.31" width="1.00" height="0.70" fill="#777" stroke="none" stroke-width="1" />
<rect x="91.24" y="406.65" width="1.30" height="0.70" fill="#777" stroke="none" stroke-width="1" />
<rect x="88.75" y="411.11" width="1.00" height="0.70" fill="#777" stroke="none" stroke-width="1" />
<rect x="232.00" y="406.81" width="1.30" height="0.70" fill="#777" stroke="none" stroke-width="1" />
<rect x="135.12" y="411.81" width="1.00" height="0.70" fill="#777" stroke="none" stroke-width="1" />
<line x1="56.00" y1="412.50" x2="77.00" y2="412.50" stroke="#000" stroke-width="1" />
<line x1="87.60" y1="412.50" x2="248.00" y2="412.50" stroke="#999" stroke-width="0.9" />
<line x1="454.50" y1="78.50" x2="518.80" y2="78.50" stroke="#000" stroke-width="1" />
<line x1="454.50" y1="78.40" x2="454.50" y2="101.00" stroke="#000" stroke-width="1" />
<line x1="454.00" y1="101.00" x2="454.00" y2="194.50" stroke="#000" stroke-width="2" />
<text x="465.5" y="76" font-size="10.5" text-anchor="start" font-style="normal" style="white-space:pre" >Состав 2</text>
<line x1="130.70" y1="203.50" x2="186.60" y2="203.50" stroke="#000" stroke-width="1" />
<line x1="130.50" y1="203.40" x2="130.50" y2="226.00" stroke="#000" stroke-width="1" />
<line x1="131.00" y1="226.00" x2="131.00" y2="278.00" stroke="#000" stroke-width="2" />
<text x="141.5" y="200.6" font-size="10.5" text-anchor="start" font-style="normal" style="white-space:pre" >Состав 3</text>
<line x1="445.50" y1="230.50" x2="501.00" y2="230.50" stroke="#000" stroke-width="1" />
<line x1="445.50" y1="230.00" x2="445.50" y2="252.50" stroke="#000" stroke-width="1" />
<line x1="446.00" y1="252.50" x2="446.00" y2="317.50" stroke="#000" stroke-width="2" />
<text x="456" y="227.5" font-size="10.5" text-anchor="start" font-style="normal" style="white-space:pre" >Состав 4</text>
<line x1="111.50" y1="274.00" x2="111.50" y2="397.00" stroke="#333" stroke-width="0.8" />
<text x="109" y="335" font-size="10.5" text-anchor="middle" font-style="normal" transform="rotate(-90 109 335)" style="white-space:pre" >4021</text>
<line x1="228.50" y1="246.30" x2="228.50" y2="397.00" stroke="#333" stroke-width="0.8" />
<text x="225.5" y="324.6" font-size="10.5" text-anchor="middle" font-style="normal" transform="rotate(-90 225.5 324.6)" style="white-space:pre" >4749</text>
<line x1="289.50" y1="152.50" x2="289.50" y2="397.00" stroke="#333" stroke-width="0.8" />
<text x="286" y="337" font-size="10.5" text-anchor="middle" font-style="normal" transform="rotate(-90 286 337)" style="white-space:pre" >7989</text>
<line x1="319.50" y1="142.50" x2="319.50" y2="397.00" stroke="#333" stroke-width="0.8" />
<text x="317" y="330.8" font-size="10.5" text-anchor="middle" font-style="normal" transform="rotate(-90 317 330.8)" style="white-space:pre" >8350</text>
<line x1="765.50" y1="188.00" x2="765.50" y2="275.00" stroke="#333" stroke-width="0.8" />
<text x="762" y="233.3" font-size="10.5" text-anchor="middle" font-style="normal" transform="rotate(-90 762 233.3)" style="white-space:pre" >2730</text>
<line x1="791.50" y1="157.00" x2="791.50" y2="397.00" stroke="#333" stroke-width="0.8" />
<text x="788" y="326.7" font-size="10.5" text-anchor="middle" font-style="normal" transform="rotate(-90 788 326.7)" style="white-space:pre" >7663</text>
<line x1="637.50" y1="265.80" x2="637.50" y2="397.00" stroke="#333" stroke-width="0.8" />
<text x="634" y="350" font-size="10.5" text-anchor="middle" font-style="normal" transform="rotate(-90 634 350)" style="white-space:pre" >3020</text>
<path d="M107.7 270 L114.7 277" stroke="#333" stroke-width="0.8" fill="none" />
<path d="M107.7 393 L114.7 400" stroke="#333" stroke-width="0.8" fill="none" />
<path d="M224.7 247.3 L231.7 254.3" stroke="#333" stroke-width="0.8" fill="none" />
<path d="M224.7 393 L231.7 400" stroke="#333" stroke-width="0.8" fill="none" />
<path d="M285.5 148.5 L292.5 155.5" stroke="#333" stroke-width="0.8" fill="none" />
<path d="M285.5 393 L292.5 400" stroke="#333" stroke-width="0.8" fill="none" />
<path d="M315.6 393 L322.6 400" stroke="#333" stroke-width="0.8" fill="none" />
<path d="M761.7 184 L768.7 191" stroke="#333" stroke-width="0.8" fill="none" />
<path d="M761.7 271 L768.7 278" stroke="#333" stroke-width="0.8" fill="none" />
<path d="M787.7 393 L794.7 400" stroke="#333" stroke-width="0.8" fill="none" />
<path d="M787.7 158.5 L794.7 165.5" stroke="#333" stroke-width="0.8" fill="none" />
<path d="M633.5 271 L640.5 278" stroke="#333" stroke-width="0.8" fill="none" />
<path d="M633.5 279.6 L640.5 286.6" stroke="#333" stroke-width="0.8" fill="none" />
<path d="M633.5 301 L640.5 308" stroke="#333" stroke-width="0.8" fill="none" />
<line x1="87.00" y1="274.50" x2="111.70" y2="274.50" stroke="#555" stroke-width="0.8" />
<line x1="225.00" y1="251.50" x2="261.00" y2="251.50" stroke="#555" stroke-width="0.8" />
<line x1="267.00" y1="152.50" x2="292.00" y2="152.50" stroke="#555" stroke-width="0.8" />
<line x1="787.00" y1="162.50" x2="811.00" y2="162.50" stroke="#555" stroke-width="0.8" />
<path d="M595.3 245.8 V268.7 L618.3 274.7" stroke="#000" stroke-width="0.8" fill="none" />
<path d="M656.7 239.2 V255.8 L637.5 275" stroke="#000" stroke-width="0.8" fill="none" />
<path d="M607 345.8 V323.3 L637.5 300" stroke="#000" stroke-width="0.8" fill="none" />
<text x="592" y="256.7" font-size="10.5" text-anchor="middle" font-style="normal" transform="rotate(-90 592 256.7)" style="white-space:pre" >220</text>
<text x="654" y="247.5" font-size="10.5" text-anchor="middle" font-style="normal" transform="rotate(-90 654 247.5)" style="white-space:pre" >40</text>
<text x="604.5" y="334" font-size="10.5" text-anchor="middle" font-style="normal" transform="rotate(-90 604.5 334)" style="white-space:pre" >700</text>
<line x1="74.00" y1="458.50" x2="824.00" y2="458.50" stroke="#333" stroke-width="0.8" />
<line x1="260.00" y1="482.50" x2="824.00" y2="482.50" stroke="#333" stroke-width="0.8" />
<line x1="75.90" y1="462.90" x2="84.90" y2="453.90" stroke="#000" stroke-width="1" />
<line x1="80.4" y1="414" x2="80.4" y2="489" stroke="#333" stroke-width="0.8" stroke-dasharray="15 3 1.5 3"/>
<circle cx="80.4" cy="503" r="14" fill="#fff" stroke="#000" stroke-width="1"/>
<text x="80.4" y="507" font-size="13" text-anchor="middle" font-style="normal" style="white-space:pre" >А/0</text>
<line x1="261.90" y1="462.90" x2="270.90" y2="453.90" stroke="#000" stroke-width="1" />
<line x1="266.4" y1="414" x2="266.4" y2="489" stroke="#333" stroke-width="0.8" stroke-dasharray="15 3 1.5 3"/>
<circle cx="266.4" cy="503" r="14" fill="#fff" stroke="#000" stroke-width="1"/>
<text x="266.4" y="507" font-size="13" text-anchor="middle" font-style="normal" style="white-space:pre" >А</text>
<line x1="399.50" y1="462.90" x2="408.50" y2="453.90" stroke="#000" stroke-width="1" />
<line x1="404" y1="414" x2="404" y2="489" stroke="#333" stroke-width="0.8" stroke-dasharray="15 3 1.5 3"/>
<circle cx="404" cy="503" r="14" fill="#fff" stroke="#000" stroke-width="1"/>
<text x="404" y="507" font-size="13" text-anchor="middle" font-style="normal" style="white-space:pre" >Б</text>
<line x1="537.50" y1="462.90" x2="546.50" y2="453.90" stroke="#000" stroke-width="1" />
<line x1="542" y1="414" x2="542" y2="489" stroke="#333" stroke-width="0.8" stroke-dasharray="15 3 1.5 3"/>
<circle cx="542" cy="503" r="14" fill="#fff" stroke="#000" stroke-width="1"/>
<text x="542" y="507" font-size="13" text-anchor="middle" font-style="normal" style="white-space:pre" >В</text>
<line x1="674.70" y1="462.90" x2="683.70" y2="453.90" stroke="#000" stroke-width="1" />
<line x1="679.2" y1="414" x2="679.2" y2="489" stroke="#333" stroke-width="0.8" stroke-dasharray="15 3 1.5 3"/>
<circle cx="679.2" cy="503" r="14" fill="#fff" stroke="#000" stroke-width="1"/>
<text x="679.2" y="507" font-size="13" text-anchor="middle" font-style="normal" style="white-space:pre" >Г</text>
<line x1="812.70" y1="462.90" x2="821.70" y2="453.90" stroke="#000" stroke-width="1" />
<line x1="817.2" y1="414" x2="817.2" y2="489" stroke="#333" stroke-width="0.8" stroke-dasharray="15 3 1.5 3"/>
<circle cx="817.2" cy="503" r="14" fill="#fff" stroke="#000" stroke-width="1"/>
<text x="817.2" y="507" font-size="13" text-anchor="middle" font-style="normal" style="white-space:pre" >Д</text>
<line x1="261.90" y1="486.50" x2="270.90" y2="477.50" stroke="#000" stroke-width="1" />
<line x1="812.70" y1="486.50" x2="821.70" y2="477.50" stroke="#000" stroke-width="1" />
<text x="173" y="455" font-size="10.5" text-anchor="middle" font-style="normal" style="white-space:pre" >6070</text>
<text x="335.2" y="455" font-size="10.5" text-anchor="middle" font-style="normal" style="white-space:pre" >4500</text>
<text x="473.0" y="455" font-size="10.5" text-anchor="middle" font-style="normal" style="white-space:pre" >4500</text>
<text x="610.6" y="455" font-size="10.5" text-anchor="middle" font-style="normal" style="white-space:pre" >4500</text>
<text x="748.2" y="455" font-size="10.5" text-anchor="middle" font-style="normal" style="white-space:pre" >4500</text>
<text x="573.2" y="479" font-size="10.5" text-anchor="middle" font-style="normal" style="white-space:pre" >18000</text>
<text x="1027.7" y="43.7" font-size="15.6" text-anchor="start" font-style="italic" style="white-space:pre" textLength="65.3" lengthAdjust="spacingAndGlyphs">Состав 1</text>
<line x1="1026.40" y1="46.50" x2="1094.30" y2="46.50" stroke="#111" stroke-width="1" />
<text x="1026" y="284.2" font-size="15.6" text-anchor="start" font-style="italic" style="white-space:pre" textLength="66.5" lengthAdjust="spacingAndGlyphs">Состав 2</text>
<line x1="1024.70" y1="287.50" x2="1093.80" y2="287.50" stroke="#111" stroke-width="1" />
<text x="176.5" y="569.4" font-size="15.6" text-anchor="start" font-style="italic" style="white-space:pre" textLength="67.0" lengthAdjust="spacingAndGlyphs">Состав 3</text>
<line x1="175.20" y1="572.50" x2="244.80" y2="572.50" stroke="#111" stroke-width="1" />
<text x="486.5" y="566.5" font-size="15.6" text-anchor="start" font-style="italic" style="white-space:pre" textLength="67.5" lengthAdjust="spacingAndGlyphs">Состав 4</text>
<line x1="485.20" y1="569.50" x2="555.30" y2="569.50" stroke="#111" stroke-width="1" />
<text x="907.5" y="81" font-size="12.9" text-anchor="start" font-style="normal" style="white-space:pre" >- Железобетонная  монолитная плита</text>
<text x="915" y="96.6" font-size="12.9" text-anchor="start" font-style="normal" style="white-space:pre" >из бетона В 15 (М200)</text>
<text x="1154.4" y="96.6" font-size="12.9" text-anchor="start" font-style="normal" style="white-space:pre" >- 150 мм</text>
<text x="907.5" y="127.5" font-size="12.9" text-anchor="start" font-style="normal" style="white-space:pre" >- Сетка армирующая Ø3 100х100 мм</text>
<text x="907.5" y="158" font-size="12.9" text-anchor="start" font-style="normal" style="white-space:pre" >- Пленка полиэтиленовая</text>
<text x="1153" y="158" font-size="12.9" text-anchor="start" font-style="normal" style="white-space:pre" >-  2 слоя</text>
<text x="907.5" y="189" font-size="12.9" text-anchor="start" font-style="normal" style="white-space:pre" >- Подготовка из песка средней</text>
<text x="915" y="204" font-size="12.9" text-anchor="start" font-style="normal" style="white-space:pre" >крупности</text>
<text x="1153" y="204" font-size="12.9" text-anchor="start" font-style="normal" style="white-space:pre" >- 200 мм</text>
<text x="907.5" y="235" font-size="12.9" text-anchor="start" font-style="normal" style="white-space:pre" >- Грунт основания</text>
<text x="905" y="341" font-size="12.9" text-anchor="start" font-style="normal" style="white-space:pre" >- Мембрана ПВХ</text>
<text x="1155" y="341" font-size="12.9" text-anchor="start" font-style="normal" style="white-space:pre" >- 1 слой</text>
<text x="905" y="366.7" font-size="12.9" text-anchor="start" font-style="normal" style="white-space:pre" >- Геотекстиль</text>
<text x="1153.3" y="366.7" font-size="12.9" text-anchor="start" font-style="normal" style="white-space:pre" >- 1 слой</text>
<text x="905" y="393.3" font-size="12.9" text-anchor="start" font-style="normal" style="white-space:pre" >- Утеплитель ПЕНОПЛЭКС ɣ=30кг/м3,</text>
<text x="912.7" y="406.7" font-size="12.9" text-anchor="start" font-style="normal" style="white-space:pre" >толщиной 50 мм</text>
<text x="1153.3" y="406.7" font-size="12.9" text-anchor="start" font-style="normal" style="white-space:pre" >- 3 слоя</text>
<text x="905" y="432.7" font-size="12.9" text-anchor="start" font-style="normal" style="white-space:pre" >- Лист гипсоволокнистый влагостойкий</text>
<text x="908.3" y="445.8" font-size="12.9" text-anchor="start" font-style="normal" style="white-space:pre" >t=12,5 мм</text>
<text x="905" y="471.5" font-size="12.9" text-anchor="start" font-style="normal" style="white-space:pre" >- Пароизоляция для плоских кровель</text>
<text x="1151.7" y="471.5" font-size="12.9" text-anchor="start" font-style="normal" style="white-space:pre" >- 1 слой</text>
<text x="905" y="510.5" font-size="12.9" text-anchor="start" font-style="normal" style="white-space:pre" >- Профлист Н 114х0.8 мм</text>
<text x="905" y="536.5" font-size="12.9" text-anchor="start" font-style="normal" style="white-space:pre" >- Металлическая ферма</text>
<text x="52.3" y="611.7" font-size="12.9" text-anchor="start" font-style="normal" style="white-space:pre" >- Профнастил НС 35*0.7 (оцинкованный)</text>
<text x="52.3" y="641.7" font-size="12.9" text-anchor="start" font-style="normal" style="white-space:pre" >- Прогоны - швеллер</text>
<text x="52.3" y="672.5" font-size="12.9" text-anchor="start" font-style="normal" style="white-space:pre" >- Металлическая балка</text>
<text x="341.3" y="598.3" font-size="12.9" text-anchor="start" font-style="normal" style="white-space:pre" >- Цементно-песчаная стяжка</text>
<text x="349" y="613" font-size="12.9" text-anchor="start" font-style="normal" style="white-space:pre" >из раствора марки М150</text>
<text x="612.6" y="613" font-size="12.9" text-anchor="start" font-style="normal" style="white-space:pre" >- 40 мм</text>
<text x="341.3" y="643.8" font-size="12.9" text-anchor="start" font-style="normal" style="white-space:pre" >- Сборные ж/б плиты перекрытия</text>
<text x="611.4" y="643.8" font-size="12.9" text-anchor="start" font-style="normal" style="white-space:pre" >- 220 мм</text>
<text x="341.3" y="674" font-size="12.9" text-anchor="start" font-style="normal" style="white-space:pre" >- Металлическая фермы (с торцов балки)</text>
<line x1="656.50" y1="721.00" x2="855.00" y2="721.00" stroke="#000" stroke-width="1.8" />
<line x1="656.50" y1="736.50" x2="855.00" y2="736.50" stroke="#222" stroke-width="1.0" />
<line x1="656.50" y1="751.50" x2="855.00" y2="751.50" stroke="#000" stroke-width="1.2" />
<line x1="656.50" y1="766.50" x2="855.00" y2="766.50" stroke="#777" stroke-width="1.0" />
<line x1="656.50" y1="782.50" x2="855.00" y2="782.50" stroke="#000" stroke-width="1.3" />
<line x1="656.50" y1="799.40" x2="855.00" y2="799.40" stroke="#000" stroke-width="1.6" />
<line x1="656.50" y1="812.50" x2="855.00" y2="812.50" stroke="#888" stroke-width="1.0" />
<line x1="656.50" y1="827.50" x2="855.00" y2="827.50" stroke="#888" stroke-width="1.0" />
<line x1="656.50" y1="843.50" x2="855.00" y2="843.50" stroke="#000" stroke-width="1.3" />
<line x1="656.50" y1="858.50" x2="855.00" y2="858.50" stroke="#888" stroke-width="1.0" />
<line x1="656.50" y1="874.50" x2="855.00" y2="874.50" stroke="#888" stroke-width="1.0" />
<line x1="855.00" y1="751.50" x2="1200.00" y2="751.50" stroke="#000" stroke-width="1.6" />
<line x1="855.00" y1="799.50" x2="1200.00" y2="799.50" stroke="#000" stroke-width="1.6" />
<line x1="855.00" y1="843.10" x2="1200.00" y2="843.10" stroke="#000" stroke-width="1.6" />
<line x1="1069.30" y1="814.50" x2="1200.00" y2="814.50" stroke="#000" stroke-width="1.2" />
<line x1="855.00" y1="721.00" x2="1200.00" y2="721.00" stroke="#000" stroke-width="1.8" />
<line x1="656.00" y1="721.00" x2="656.00" y2="889.00" stroke="#000" stroke-width="1.8" />
<line x1="717.50" y1="721.00" x2="717.50" y2="889.00" stroke="#000" stroke-width="1.6" />
<line x1="778.50" y1="721.00" x2="778.50" y2="889.00" stroke="#000" stroke-width="1.6" />
<line x1="824.50" y1="721.00" x2="824.50" y2="889.00" stroke="#000" stroke-width="1.6" />
<line x1="855.00" y1="721.00" x2="855.00" y2="889.00" stroke="#000" stroke-width="1.8" />
<line x1="687.50" y1="721.00" x2="687.50" y2="799.40" stroke="#666" stroke-width="1" />
<line x1="748.50" y1="721.00" x2="748.50" y2="799.40" stroke="#666" stroke-width="1" />
<line x1="1069.30" y1="799.50" x2="1069.30" y2="889.00" stroke="#000" stroke-width="1.6" />
<line x1="1115.50" y1="799.50" x2="1115.50" y2="843.10" stroke="#000" stroke-width="1.2" />
<line x1="1161.50" y1="799.50" x2="1161.50" y2="843.10" stroke="#000" stroke-width="1.2" />
<text x="660.2" y="794.5" font-size="12.8" text-anchor="start" font-style="normal" style="white-space:pre" textLength="25.7" lengthAdjust="spacingAndGlyphs">Изм.</text>
<text x="687.8" y="794.5" font-size="12.8" text-anchor="start" font-style="normal" style="white-space:pre" textLength="25.4" lengthAdjust="spacingAndGlyphs">Кол.</text>
<text x="718.5" y="794.5" font-size="12.8" text-anchor="start" font-style="normal" style="white-space:pre" textLength="27.7" lengthAdjust="spacingAndGlyphs">Лист</text>
<text x="749" y="794.5" font-size="10" text-anchor="start" font-style="normal" style="white-space:pre" textLength="28.9" lengthAdjust="spacingAndGlyphs">№док.</text>
<text x="781.3" y="794.5" font-size="12.8" text-anchor="start" font-style="normal" style="white-space:pre" textLength="34" lengthAdjust="spacingAndGlyphs">Подп.</text>
<text x="825.8" y="794.5" font-size="12.8" text-anchor="start" font-style="normal" style="white-space:pre" textLength="28.9" lengthAdjust="spacingAndGlyphs">Дата</text>
<text x="658.75" y="825" font-size="10.6" text-anchor="start" font-style="normal" style="white-space:pre" textLength="47" lengthAdjust="spacingAndGlyphs">Разработал</text>
<text x="720.9" y="823.9" font-size="10.2" text-anchor="start" font-style="normal" style="white-space:pre" textLength="46" lengthAdjust="spacingAndGlyphs">Шабалина</text>
<text x="828.5" y="825.6" font-size="9.9" text-anchor="start" font-style="normal" style="white-space:pre" textLength="21" lengthAdjust="spacingAndGlyphs">12.21</text>
<text x="658.75" y="854.5" font-size="10.2" text-anchor="start" font-style="normal" style="white-space:pre" textLength="35" lengthAdjust="spacingAndGlyphs">Н. контр.</text>
<text x="721.4" y="854.5" font-size="10.6" text-anchor="start" font-style="normal" style="white-space:pre" textLength="52" lengthAdjust="spacingAndGlyphs">Двоеглазов</text>
<text x="828.5" y="856.6" font-size="9.9" text-anchor="start" font-style="normal" style="white-space:pre" textLength="21" lengthAdjust="spacingAndGlyphs">12.21</text>
<text x="658.75" y="870.6" font-size="10.4" text-anchor="start" font-style="normal" style="white-space:pre" textLength="17" lengthAdjust="spacingAndGlyphs">ГИП</text>
<text x="724.4" y="869.4" font-size="10.4" text-anchor="start" font-style="normal" style="white-space:pre" textLength="46" lengthAdjust="spacingAndGlyphs">Коротаев</text>
<text x="828.5" y="871.5" font-size="9.9" text-anchor="start" font-style="normal" style="white-space:pre" textLength="21" lengthAdjust="spacingAndGlyphs">12.21</text>
<g transform="translate(775,805) scale(0.08889)" fill="none" stroke="#000" stroke-linecap="round" stroke-linejoin="round">
<path d="M88 82 Q105 65 118 95 L140 232 L160 125 L170 232 L182 45 L196 232" stroke="#000" stroke-width="18" fill="none" />
<path d="M238 190 Q205 235 240 240 Q272 232 258 185 Q242 172 238 190 M262 190 L272 238" stroke="#000" stroke-width="18" fill="none" />
<path d="M272 236 C300 190 385 40 372 62 C345 110 268 385 288 405 C305 418 318 270 332 232" stroke="#000" stroke-width="17" fill="none" />
<path d="M332 232 C365 180 470 55 458 78 C432 125 340 392 356 402 C372 410 392 262 402 232" stroke="#000" stroke-width="17" fill="none" />
<path d="M470 222 C500 195 540 182 590 186" stroke="#000" stroke-width="15" fill="none" />
<path d="M132 660 C190 590 250 530 300 455 M292 470 L280 510 Q310 470 330 500 Q338 535 318 560 Q345 545 360 550 C420 515 520 478 640 466" stroke="#000" stroke-width="16" fill="none" />
<path d="M160 770 C118 730 200 640 262 652 C302 662 240 768 182 792 C132 806 150 720 225 690 C280 670 320 640 300 720 C290 760 250 790 215 770" stroke="#000" stroke-width="17" fill="none" />
<path d="M300 870 L520 590 M270 800 L490 550 M330 760 L470 580 M360 740 L500 600 M390 700 L450 620" stroke="#000" stroke-width="15" fill="none" />
<path d="M240 660 C280 640 330 610 360 590 L400 570" stroke="#000" stroke-width="22" fill="none" />
</g>
<text x="1043" y="741.25" font-size="12.7" text-anchor="middle" font-style="normal" style="white-space:pre" >51-21П-АР</text>
<text x="1039.6" y="763.6" font-size="12" text-anchor="middle" font-style="normal" style="white-space:pre" >Здание производственное, расположенное по адресу:</text>
<text x="1039.6" y="778.3" font-size="12" text-anchor="middle" font-style="normal" style="white-space:pre" >Свердловская область, район Белоярский, поселок</text>
<text x="1039.6" y="792.5" font-size="12" text-anchor="middle" font-style="normal" style="white-space:pre" >Прохладный</text>
<text x="1071" y="811.6" font-size="12.6" text-anchor="start" font-style="normal" style="white-space:pre" >Стадия</text>
<text x="1123.6" y="811.6" font-size="12.6" text-anchor="start" font-style="normal" style="white-space:pre" >Лист</text>
<text x="1167.9" y="811.6" font-size="12.6" text-anchor="start" font-style="normal" style="white-space:pre" >Листов</text>
<text x="1093.5" y="833.5" font-size="12.6" text-anchor="middle" font-style="normal" style="white-space:pre" >ЭП</text>
<text x="1141.7" y="833.5" font-size="12.6" text-anchor="middle" font-style="normal" style="white-space:pre" >19</text>
<text x="1183.9" y="833.5" font-size="12.6" text-anchor="middle" font-style="normal" style="white-space:pre" >20</text>
<text x="867.5" y="821.5" font-size="10.67" text-anchor="start" font-style="italic" style="white-space:pre" >ИП Бицюта Алексей Константинович</text>
<text x="972.5" y="868" font-size="10.7" text-anchor="middle" font-style="normal" style="white-space:pre" >Разрез 2-2</text>
<text x="1147.4" y="868.5" font-size="12.8" text-anchor="middle" font-style="normal" style="white-space:pre" >ООО &quot;Альянс&quot;</text>
</svg></body></html>
